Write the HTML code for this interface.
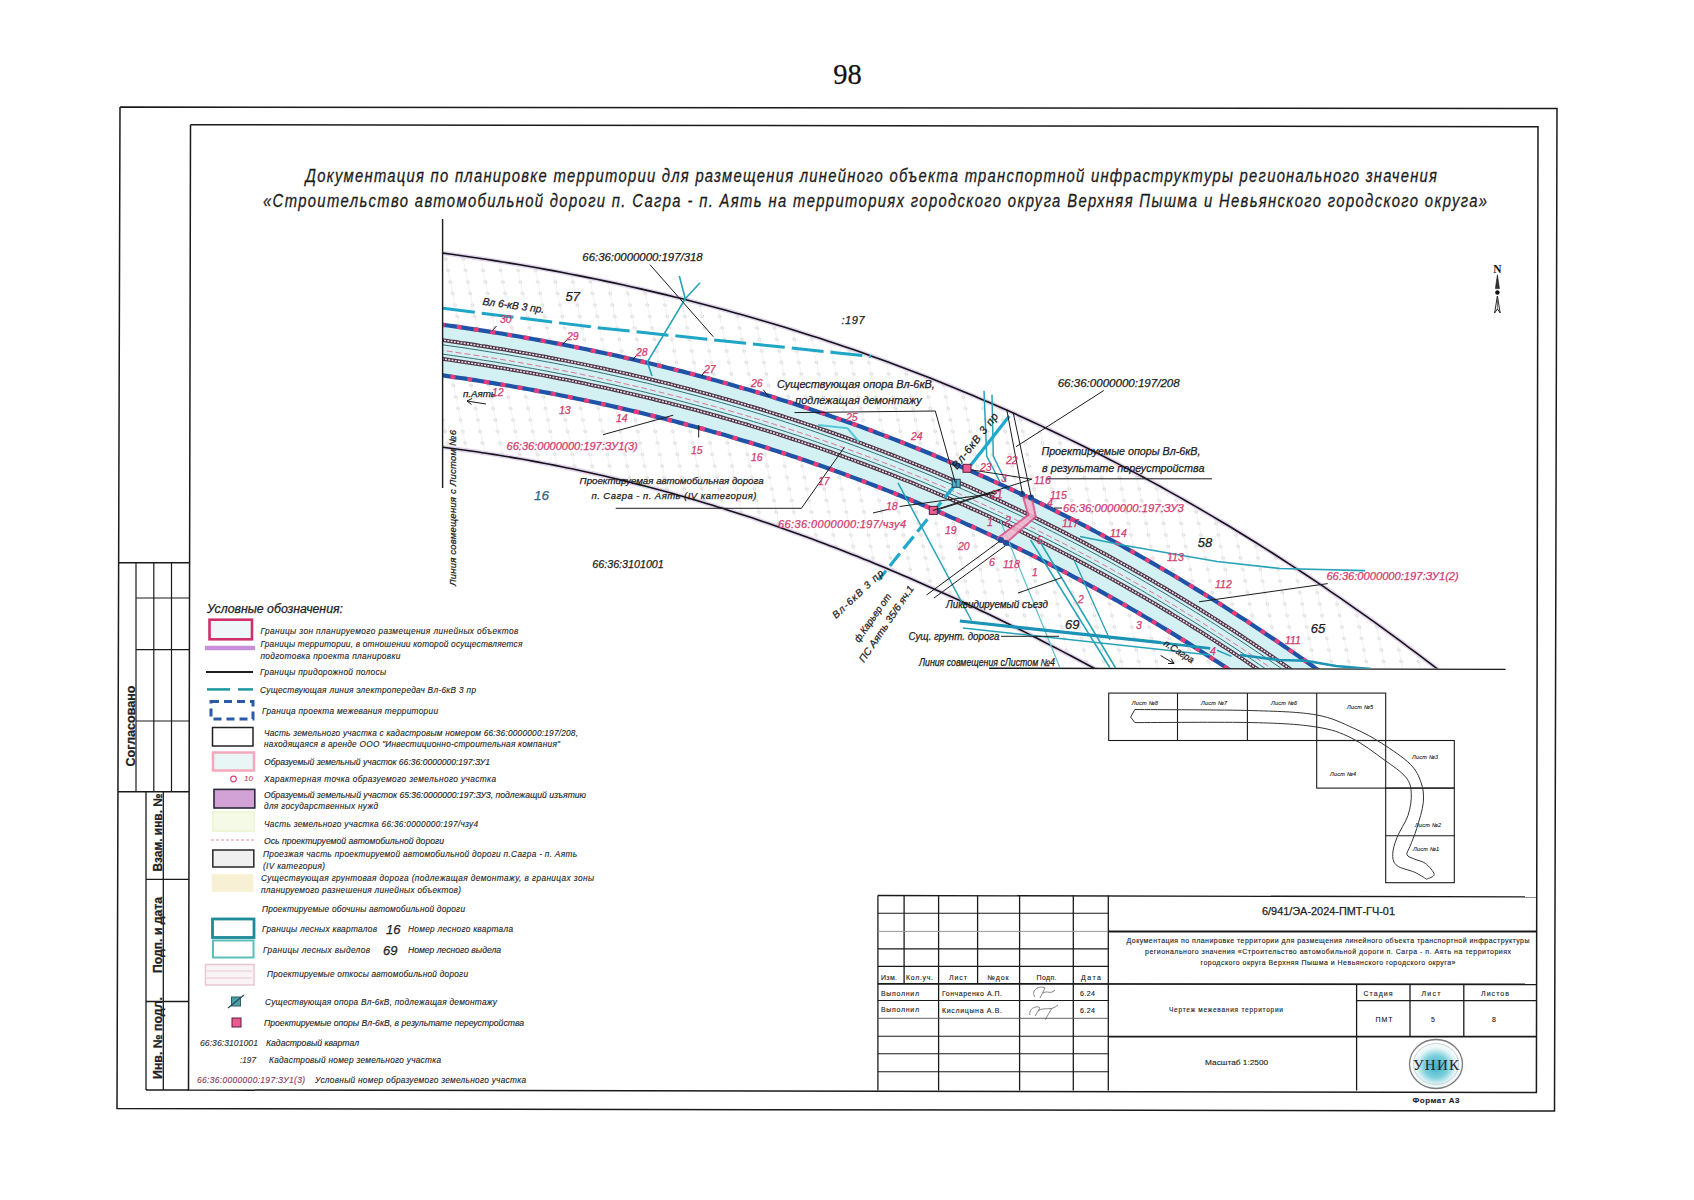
<!DOCTYPE html>
<html><head><meta charset="utf-8"><style>
html,body{margin:0;padding:0;background:#ffffff;width:1694px;height:1200px;overflow:hidden;position:relative}
</style></head><body>
<svg width="1694" height="1200" viewBox="0 0 1694 1200" style="position:absolute;left:0;top:0">
<defs>
<clipPath id="map"><rect x="443" y="200" width="1100" height="468.5"/></clipPath>
<clipPath id="strip"><polygon points="430.0,251.3 436.5,252.2 443.0,253.1 449.4,254.0 455.9,254.9 462.4,255.8 468.9,256.7 475.3,257.7 481.8,258.7 488.3,259.7 494.8,260.7 501.3,261.7 507.7,262.8 514.2,263.9 520.7,265.0 527.2,266.1 533.6,267.2 540.1,268.4 546.6,269.6 553.1,270.7 559.6,272.0 566.0,273.2 572.5,274.4 579.0,275.7 585.5,277.0 591.9,278.3 598.4,279.7 604.9,281.0 611.4,282.4 617.9,283.8 624.3,285.2 630.8,286.6 637.3,288.1 643.8,289.6 650.3,291.1 656.7,292.6 663.2,294.2 669.7,295.7 676.2,297.3 682.6,298.9 689.1,300.5 695.6,302.2 702.1,303.9 708.6,305.6 715.0,307.3 721.5,309.0 728.0,310.8 734.5,312.6 740.9,314.4 747.4,316.3 753.9,318.1 760.4,320.0 766.9,321.9 773.3,323.8 779.8,325.8 786.3,327.8 792.8,329.8 799.2,331.8 805.7,333.9 812.2,335.9 818.7,338.0 825.2,340.2 831.6,342.3 838.1,344.5 844.6,346.7 851.1,348.9 857.5,351.1 864.0,353.4 870.5,355.7 877.0,358.0 883.5,360.4 889.9,362.8 896.4,365.2 902.9,367.6 909.4,370.1 915.8,372.5 922.3,375.0 928.8,377.6 935.3,380.1 941.8,382.7 948.2,385.3 954.7,388.0 961.2,390.7 967.7,393.3 974.2,396.1 980.6,398.8 987.1,401.6 993.6,404.4 1000.1,407.2 1006.5,410.1 1013.0,413.0 1019.5,415.9 1026.0,418.9 1032.5,421.8 1038.9,424.8 1045.4,427.9 1051.9,430.9 1058.4,434.0 1064.8,437.1 1071.3,440.3 1077.8,443.4 1084.3,446.6 1090.8,449.9 1097.2,453.1 1103.7,456.4 1110.2,459.8 1116.7,463.1 1123.1,466.5 1129.6,469.9 1136.1,473.4 1142.6,476.8 1149.1,480.3 1155.5,483.9 1162.0,487.4 1168.5,491.0 1175.0,494.7 1181.4,498.3 1187.9,502.0 1194.4,505.7 1200.9,509.5 1207.4,513.3 1213.8,517.1 1220.3,520.9 1226.8,524.8 1233.3,528.7 1239.7,532.7 1246.2,536.6 1252.7,540.7 1259.2,544.7 1265.7,548.8 1272.1,552.9 1278.6,557.0 1285.1,561.2 1291.6,565.4 1298.1,569.6 1304.5,573.9 1311.0,578.2 1317.5,582.5 1324.0,586.9 1330.4,591.3 1336.9,595.8 1343.4,600.2 1349.9,604.7 1356.4,609.3 1362.8,613.9 1369.3,618.5 1375.8,623.1 1382.3,627.8 1388.7,632.5 1395.2,637.3 1401.7,642.1 1408.2,646.9 1414.7,651.7 1421.1,656.6 1427.6,661.6 1434.1,666.5 1440.6,671.5 1447.0,676.6 1453.5,681.6 1460.0,686.7 1110.0,677.1 1105.7,674.7 1101.4,672.4 1097.2,670.0 1092.9,667.7 1088.6,665.4 1084.3,663.1 1080.1,660.8 1075.8,658.5 1071.5,656.2 1067.2,653.9 1063.0,651.7 1058.7,649.4 1054.4,647.2 1050.1,645.0 1045.8,642.8 1041.6,640.6 1037.3,638.4 1033.0,636.2 1028.7,634.1 1024.5,631.9 1020.2,629.8 1015.9,627.6 1011.6,625.5 1007.4,623.4 1003.1,621.3 998.8,619.2 994.5,617.1 990.3,615.1 986.0,613.0 981.7,611.0 977.4,608.9 973.1,606.9 968.9,604.9 964.6,602.9 960.3,600.9 956.0,598.9 951.8,597.0 947.5,595.0 943.2,593.1 938.9,591.1 934.7,589.2 930.4,587.3 926.1,585.4 921.8,583.5 917.5,581.6 913.3,579.8 909.0,577.9 904.7,576.1 900.4,574.2 896.2,572.4 891.9,570.6 887.6,568.8 883.3,567.0 879.1,565.3 874.8,563.5 870.5,561.8 866.2,560.0 861.9,558.3 857.7,556.6 853.4,554.9 849.1,553.2 844.8,551.5 840.6,549.8 836.3,548.2 832.0,546.5 827.7,544.9 823.5,543.3 819.2,541.7 814.9,540.1 810.6,538.5 806.4,536.9 802.1,535.3 797.8,533.8 793.5,532.2 789.2,530.7 785.0,529.2 780.7,527.7 776.4,526.2 772.1,524.7 767.9,523.2 763.6,521.8 759.3,520.3 755.0,518.9 750.8,517.5 746.5,516.1 742.2,514.7 737.9,513.3 733.6,511.9 729.4,510.5 725.1,509.2 720.8,507.8 716.5,506.5 712.3,505.2 708.0,503.9 703.7,502.6 699.4,501.3 695.2,500.1 690.9,498.8 686.6,497.6 682.3,496.3 678.1,495.1 673.8,493.9 669.5,492.7 665.2,491.5 660.9,490.4 656.7,489.2 652.4,488.1 648.1,486.9 643.8,485.8 639.6,484.7 635.3,483.6 631.0,482.5 626.7,481.5 622.5,480.4 618.2,479.4 613.9,478.3 609.6,477.3 605.3,476.3 601.1,475.3 596.8,474.3 592.5,473.3 588.2,472.4 584.0,471.4 579.7,470.5 575.4,469.6 571.1,468.7 566.9,467.8 562.6,466.9 558.3,466.0 554.0,465.2 549.7,464.3 545.5,463.5 541.2,462.7 536.9,461.9 532.6,461.1 528.4,460.3 524.1,459.5 519.8,458.8 515.5,458.0 511.3,457.3 507.0,456.6 502.7,455.9 498.4,455.2 494.2,454.5 489.9,453.8 485.6,453.2 481.3,452.5 477.0,451.9 472.8,451.3 468.5,450.7 464.2,450.1 459.9,449.5 455.7,448.9 451.4,448.4 447.1,447.8 442.8,447.3 438.6,446.8 434.3,446.3 430.0,445.8"/></clipPath>
<pattern id="dots" width="17.5" height="11.5" patternUnits="userSpaceOnUse" patternTransform="skewX(11.3)"><circle cx="9" cy="6" r="1.3" fill="none" stroke="#bdbdbd" stroke-width="0.7"/></pattern>
</defs>
<text x="847.5" y="83.6" font-family="Liberation Serif" font-size="28.5" fill="#111" stroke="#111" stroke-width="0.25" text-anchor="middle">98</text>
<g>
<polyline points="120.0,107.0 1557.0,108.6 1554.5,1111.0 117.0,1108.6 120.0,107.0" fill="none" stroke="#1a1a1a" stroke-width="1.5"/>
<polyline points="190.5,124.7 1538.0,126.7 1536.4,1092.5 188.5,1090.0 190.5,124.7" fill="none" stroke="#1a1a1a" stroke-width="1.5"/>
</g>
<g transform="scale(0.78,1)">
<text x="391.7" y="182.4" font-family="Liberation Sans" font-size="19" fill="#1c1c1c" stroke="#1c1c1c" stroke-width="0.3" font-style="italic" textLength="1450.6" lengthAdjust="spacing">Документация по планировке территории для размещения линейного объекта транспортной инфраструктуры регионального значения</text>
<text x="337.2" y="206.6" font-family="Liberation Sans" font-size="19" fill="#1c1c1c" stroke="#1c1c1c" stroke-width="0.3" font-style="italic" textLength="1569.2" lengthAdjust="spacing">«Строительство автомобильной дороги п. Сагра - п. Аять на территориях городского округа Верхняя Пышма и Невьянского городского округа»</text>
</g>
<g clip-path="url(#map)">
<g clip-path="url(#strip)"><rect x="443" y="200" width="1100" height="470" fill="url(#dots)"/></g>
<g clip-path="url(#strip)" stroke="#efefef" stroke-width="0.8"><line x1="125.0" y1="230" x2="215.0" y2="680"/><line x1="142.5" y1="230" x2="232.5" y2="680"/><line x1="160.0" y1="230" x2="250.0" y2="680"/><line x1="177.5" y1="230" x2="267.5" y2="680"/><line x1="195.0" y1="230" x2="285.0" y2="680"/><line x1="212.5" y1="230" x2="302.5" y2="680"/><line x1="230.0" y1="230" x2="320.0" y2="680"/><line x1="247.5" y1="230" x2="337.5" y2="680"/><line x1="265.0" y1="230" x2="355.0" y2="680"/><line x1="282.5" y1="230" x2="372.5" y2="680"/><line x1="300.0" y1="230" x2="390.0" y2="680"/><line x1="317.5" y1="230" x2="407.5" y2="680"/><line x1="335.0" y1="230" x2="425.0" y2="680"/><line x1="352.5" y1="230" x2="442.5" y2="680"/><line x1="370.0" y1="230" x2="460.0" y2="680"/><line x1="387.5" y1="230" x2="477.5" y2="680"/><line x1="405.0" y1="230" x2="495.0" y2="680"/><line x1="422.5" y1="230" x2="512.5" y2="680"/><line x1="440.0" y1="230" x2="530.0" y2="680"/><line x1="457.5" y1="230" x2="547.5" y2="680"/><line x1="475.0" y1="230" x2="565.0" y2="680"/><line x1="492.5" y1="230" x2="582.5" y2="680"/><line x1="510.0" y1="230" x2="600.0" y2="680"/><line x1="527.5" y1="230" x2="617.5" y2="680"/><line x1="545.0" y1="230" x2="635.0" y2="680"/><line x1="562.5" y1="230" x2="652.5" y2="680"/><line x1="580.0" y1="230" x2="670.0" y2="680"/><line x1="597.5" y1="230" x2="687.5" y2="680"/><line x1="615.0" y1="230" x2="705.0" y2="680"/><line x1="632.5" y1="230" x2="722.5" y2="680"/><line x1="650.0" y1="230" x2="740.0" y2="680"/><line x1="667.5" y1="230" x2="757.5" y2="680"/><line x1="685.0" y1="230" x2="775.0" y2="680"/><line x1="702.5" y1="230" x2="792.5" y2="680"/><line x1="720.0" y1="230" x2="810.0" y2="680"/><line x1="737.5" y1="230" x2="827.5" y2="680"/><line x1="755.0" y1="230" x2="845.0" y2="680"/><line x1="772.5" y1="230" x2="862.5" y2="680"/><line x1="790.0" y1="230" x2="880.0" y2="680"/><line x1="807.5" y1="230" x2="897.5" y2="680"/><line x1="825.0" y1="230" x2="915.0" y2="680"/><line x1="842.5" y1="230" x2="932.5" y2="680"/><line x1="860.0" y1="230" x2="950.0" y2="680"/><line x1="877.5" y1="230" x2="967.5" y2="680"/><line x1="895.0" y1="230" x2="985.0" y2="680"/><line x1="912.5" y1="230" x2="1002.5" y2="680"/><line x1="930.0" y1="230" x2="1020.0" y2="680"/><line x1="947.5" y1="230" x2="1037.5" y2="680"/><line x1="965.0" y1="230" x2="1055.0" y2="680"/><line x1="982.5" y1="230" x2="1072.5" y2="680"/><line x1="1000.0" y1="230" x2="1090.0" y2="680"/><line x1="1017.5" y1="230" x2="1107.5" y2="680"/><line x1="1035.0" y1="230" x2="1125.0" y2="680"/><line x1="1052.5" y1="230" x2="1142.5" y2="680"/><line x1="1070.0" y1="230" x2="1160.0" y2="680"/><line x1="1087.5" y1="230" x2="1177.5" y2="680"/><line x1="1105.0" y1="230" x2="1195.0" y2="680"/><line x1="1122.5" y1="230" x2="1212.5" y2="680"/><line x1="1140.0" y1="230" x2="1230.0" y2="680"/><line x1="1157.5" y1="230" x2="1247.5" y2="680"/><line x1="1175.0" y1="230" x2="1265.0" y2="680"/><line x1="1192.5" y1="230" x2="1282.5" y2="680"/><line x1="1210.0" y1="230" x2="1300.0" y2="680"/><line x1="1227.5" y1="230" x2="1317.5" y2="680"/><line x1="1245.0" y1="230" x2="1335.0" y2="680"/><line x1="1262.5" y1="230" x2="1352.5" y2="680"/><line x1="1280.0" y1="230" x2="1370.0" y2="680"/><line x1="1297.5" y1="230" x2="1387.5" y2="680"/><line x1="1315.0" y1="230" x2="1405.0" y2="680"/><line x1="1332.5" y1="230" x2="1422.5" y2="680"/><line x1="1350.0" y1="230" x2="1440.0" y2="680"/><line x1="1367.5" y1="230" x2="1457.5" y2="680"/><line x1="1385.0" y1="230" x2="1475.0" y2="680"/><line x1="1402.5" y1="230" x2="1492.5" y2="680"/><line x1="1420.0" y1="230" x2="1510.0" y2="680"/><line x1="1437.5" y1="230" x2="1527.5" y2="680"/><line x1="1455.0" y1="230" x2="1545.0" y2="680"/><line x1="1472.5" y1="230" x2="1562.5" y2="680"/><line x1="1490.0" y1="230" x2="1580.0" y2="680"/><line x1="1507.5" y1="230" x2="1597.5" y2="680"/></g>
<polyline points="443.0,253.1 451.5,254.2 460.1,255.5 468.6,256.7 477.2,258.0 485.7,259.3 494.3,260.6 502.8,262.0 511.4,263.4 519.9,264.8 528.5,266.3 537.0,267.8 545.6,269.4 554.1,270.9 562.6,272.5 571.2,274.2 579.7,275.9 588.3,277.6 596.8,279.3 605.4,281.1 613.9,282.9 622.5,284.8 631.0,286.7 639.6,288.6 648.1,290.6 656.7,292.6 665.2,294.6 673.7,296.7 682.3,298.8 690.8,301.0 699.4,303.2 707.9,305.4 716.5,307.7 725.0,310.0 733.6,312.4 742.1,314.8 750.7,317.2 759.2,319.7 767.8,322.2 776.3,324.7 784.8,327.3 793.4,330.0 801.9,332.7 810.5,335.4 819.0,338.1 827.6,341.0 836.1,343.8 844.7,346.7 853.2,349.6 861.8,352.6 870.3,355.7 878.9,358.7 887.4,361.8 895.9,365.0 904.5,368.2 913.0,371.5 921.6,374.8 930.1,378.1 938.7,381.5 947.2,384.9 955.8,388.4 964.3,392.0 972.9,395.5 981.4,399.2 990.0,402.8 998.5,406.6 1007.1,410.3 1015.6,414.1 1024.1,418.0 1032.7,421.9 1041.2,425.9 1049.8,429.9 1058.3,434.0 1066.9,438.1 1075.4,442.3 1084.0,446.5 1092.5,450.8 1101.1,455.1 1109.6,459.5 1118.2,463.9 1126.7,468.4 1135.2,472.9 1143.8,477.5 1152.3,482.1 1160.9,486.8 1169.4,491.6 1178.0,496.4 1186.5,501.2 1195.1,506.1 1203.6,511.1 1212.2,516.1 1220.7,521.2 1229.3,526.3 1237.8,531.5 1246.3,536.7 1254.9,542.0 1263.4,547.4 1272.0,552.8 1280.5,558.2 1289.1,563.8 1297.6,569.3 1306.2,575.0 1314.7,580.7 1323.3,586.4 1331.8,592.3 1340.4,598.1 1348.9,604.1 1357.4,610.1 1366.0,616.1 1374.5,622.2 1383.1,628.4 1391.6,634.6 1400.2,640.9 1408.7,647.3 1417.3,653.7 1425.8,660.2 1434.4,666.7 1442.9,673.3 1451.5,680.0 1460.0,686.7" fill="none" stroke="#dcc8ec" stroke-width="4.5" opacity="0.8"/>
<polyline points="443.0,447.3 448.6,448.0 454.2,448.7 459.8,449.5 465.4,450.2 471.0,451.0 476.6,451.8 482.2,452.7 487.8,453.5 493.4,454.4 499.1,455.3 504.7,456.2 510.3,457.1 515.9,458.1 521.5,459.0 527.1,460.0 532.7,461.1 538.3,462.1 543.9,463.2 549.5,464.3 555.1,465.4 560.7,466.5 566.3,467.7 571.9,468.8 577.5,470.0 583.1,471.3 588.7,472.5 594.3,473.8 599.9,475.0 605.5,476.3 611.2,477.7 616.8,479.0 622.4,480.4 628.0,481.8 633.6,483.2 639.2,484.6 644.8,486.1 650.4,487.5 656.0,489.0 661.6,490.5 667.2,492.1 672.8,493.6 678.4,495.2 684.0,496.8 689.6,498.4 695.2,500.1 700.8,501.7 706.4,503.4 712.0,505.1 717.6,506.9 723.3,508.6 728.9,510.4 734.5,512.2 740.1,514.0 745.7,515.8 751.3,517.6 756.9,519.5 762.5,521.4 768.1,523.3 773.7,525.2 779.3,527.2 784.9,529.2 790.5,531.2 796.1,533.2 801.7,535.2 807.3,537.2 812.9,539.3 818.5,541.4 824.1,543.5 829.7,545.7 835.4,547.8 841.0,550.0 846.6,552.2 852.2,554.4 857.8,556.6 863.4,558.9 869.0,561.1 874.6,563.4 880.2,565.7 885.8,568.1 891.4,570.4 897.0,572.8 902.6,575.2 908.2,577.6 913.8,580.0 919.4,582.5 925.0,584.9 930.6,587.4 936.2,589.9 941.8,592.4 947.5,595.0 953.1,597.6 958.7,600.1 964.3,602.7 969.9,605.4 975.5,608.0 981.1,610.7 986.7,613.3 992.3,616.0 997.9,618.8 1003.5,621.5 1009.1,624.3 1014.7,627.0 1020.3,629.8 1025.9,632.6 1031.5,635.5 1037.1,638.3 1042.7,641.2 1048.3,644.1 1053.9,647.0 1059.6,649.9 1065.2,652.9 1070.8,655.8 1076.4,658.8 1082.0,661.8 1087.6,664.8 1093.2,667.8 1098.8,670.9 1104.4,674.0 1110.0,677.1" fill="none" stroke="#dcc8ec" stroke-width="4.5" opacity="0.8"/>
<polygon points="423.1,322.1 428.1,322.8 433.1,323.4 438.1,324.1 443.0,324.8 448.0,325.5 453.0,326.2 458.0,326.9 463.0,327.6 467.9,328.4 472.9,329.1 477.9,329.9 482.9,330.6 487.8,331.4 492.8,332.2 497.8,333.0 502.8,333.8 507.8,334.7 512.7,335.5 517.7,336.3 522.7,337.2 527.7,338.1 532.7,339.0 537.6,339.9 542.6,340.8 547.6,341.7 552.6,342.6 557.6,343.6 562.6,344.5 567.5,345.5 572.5,346.5 577.5,347.5 582.5,348.5 587.5,349.5 592.4,350.6 597.4,351.6 602.4,352.7 607.4,353.7 612.4,354.8 617.4,355.9 622.4,357.0 627.3,358.2 632.3,359.3 637.3,360.5 642.3,361.6 647.3,362.8 652.3,364.0 657.2,365.2 662.2,366.4 667.2,367.7 672.2,368.9 677.2,370.2 682.2,371.4 687.2,372.7 692.2,374.0 697.1,375.4 702.1,376.7 707.1,378.0 712.1,379.4 717.1,380.8 722.1,382.2 727.1,383.6 732.1,385.0 737.0,386.4 742.0,387.9 747.0,389.3 752.0,390.8 757.0,392.3 762.0,393.8 767.0,395.3 772.0,396.8 777.0,398.4 781.9,400.0 786.9,401.5 791.9,403.1 796.9,404.8 801.9,406.4 806.9,408.0 811.9,409.7 816.9,411.4 821.9,413.0 826.9,414.7 831.8,416.5 836.8,418.2 841.8,420.0 846.8,421.7 851.8,423.5 856.8,425.3 861.8,427.1 866.8,429.0 871.8,430.8 876.8,432.7 881.7,434.6 886.7,436.5 891.7,438.4 896.7,440.3 901.7,442.3 906.7,444.2 911.7,446.2 916.7,448.2 921.7,450.2 926.7,452.3 931.7,454.3 936.6,456.4 941.6,458.5 946.6,460.6 951.6,462.7 956.6,464.8 961.6,467.0 966.6,469.2 971.6,471.3 976.6,473.5 981.6,475.8 986.6,478.0 991.5,480.3 996.5,482.6 1001.5,484.9 1006.5,487.2 1011.5,489.5 1016.5,491.8 1021.5,494.2 1026.5,496.6 1031.5,499.0 1036.5,501.4 1041.5,503.9 1046.4,506.3 1051.4,508.8 1056.4,511.3 1061.4,513.8 1066.4,516.4 1071.4,518.9 1076.4,521.5 1081.4,524.1 1086.4,526.7 1091.4,529.3 1096.3,532.0 1101.3,534.6 1106.3,537.3 1111.3,540.0 1116.3,542.8 1121.3,545.5 1126.3,548.3 1131.3,551.1 1136.3,553.9 1141.2,556.7 1146.2,559.5 1151.2,562.4 1156.2,565.3 1161.2,568.2 1166.2,571.1 1171.2,574.0 1176.2,577.0 1181.2,580.0 1186.1,583.0 1191.1,586.0 1196.1,589.1 1201.1,592.1 1206.1,595.2 1211.1,598.3 1216.1,601.4 1221.0,604.6 1226.0,607.8 1231.0,610.9 1236.0,614.2 1241.0,617.4 1246.0,620.6 1251.0,623.9 1255.9,627.2 1260.9,630.5 1265.9,633.9 1270.9,637.2 1275.9,640.6 1280.9,644.0 1285.9,647.4 1290.8,650.9 1295.8,654.3 1300.8,657.8 1305.8,661.3 1310.8,664.8 1315.8,668.4 1320.7,672.0 1325.7,675.6 1330.7,679.2 1335.7,682.8 1340.7,686.5 1345.6,690.2 1350.6,693.9 1355.6,697.6 1360.6,701.3 1365.6,705.1 1370.6,708.9 1375.5,712.7 1380.5,716.6 1385.5,720.4 1390.5,724.3 1395.5,728.2 1400.4,732.2 1405.4,736.1 1410.4,740.1 1415.4,744.1 1383.9,783.2 1379.0,779.3 1374.1,775.4 1369.3,771.5 1364.4,767.7 1359.5,763.9 1354.7,760.1 1349.8,756.3 1344.9,752.5 1340.1,748.8 1335.2,745.1 1330.3,741.4 1325.5,737.7 1320.6,734.1 1315.7,730.5 1310.9,726.9 1306.0,723.3 1301.2,719.8 1296.3,716.2 1291.4,712.7 1286.6,709.2 1281.7,705.8 1276.8,702.3 1272.0,698.9 1267.1,695.5 1262.2,692.1 1257.4,688.8 1252.5,685.4 1247.7,682.1 1242.8,678.8 1237.9,675.5 1233.1,672.3 1228.2,669.0 1223.4,665.8 1218.5,662.6 1213.6,659.5 1208.8,656.3 1203.9,653.2 1199.1,650.1 1194.2,647.0 1189.3,643.9 1184.5,640.9 1179.6,637.9 1174.8,634.9 1169.9,631.9 1165.0,628.9 1160.2,626.0 1155.3,623.0 1150.5,620.1 1145.6,617.2 1140.7,614.4 1135.9,611.5 1131.0,608.7 1126.2,605.9 1121.3,603.1 1116.5,600.3 1111.6,597.6 1106.7,594.9 1101.9,592.1 1097.0,589.4 1092.2,586.8 1087.3,584.1 1082.5,581.5 1077.6,578.9 1072.7,576.3 1067.9,573.7 1063.0,571.1 1058.2,568.6 1053.3,566.1 1048.5,563.6 1043.6,561.1 1038.7,558.6 1033.9,556.2 1029.0,553.7 1024.2,551.3 1019.3,548.9 1014.5,546.6 1009.6,544.2 1004.8,541.9 999.9,539.5 995.0,537.2 990.2,534.9 985.3,532.7 980.5,530.4 975.6,528.2 970.8,526.0 965.9,523.8 961.1,521.6 956.2,519.4 951.3,517.3 946.5,515.2 941.6,513.0 936.8,510.9 931.9,508.9 927.1,506.8 922.2,504.8 917.4,502.7 912.5,500.7 907.7,498.7 902.8,496.7 897.9,494.8 893.1,492.8 888.2,490.9 883.4,489.0 878.5,487.1 873.7,485.2 868.8,483.4 864.0,481.5 859.1,479.7 854.2,477.9 849.4,476.1 844.5,474.3 839.7,472.5 834.8,470.8 830.0,469.0 825.1,467.3 820.3,465.6 815.4,463.9 810.5,462.2 805.7,460.6 800.8,458.9 796.0,457.3 791.1,455.7 786.3,454.1 781.4,452.5 776.6,450.9 771.7,449.4 766.8,447.8 762.0,446.3 757.1,444.8 752.3,443.3 747.4,441.8 742.6,440.4 737.7,438.9 732.8,437.5 728.0,436.0 723.1,434.6 718.3,433.2 713.4,431.9 708.6,430.5 703.7,429.1 698.8,427.8 694.0,426.5 689.1,425.2 684.3,423.9 679.4,422.6 674.5,421.3 669.7,420.1 664.8,418.8 660.0,417.6 655.1,416.4 650.2,415.2 645.4,414.0 640.5,412.8 635.7,411.6 630.8,410.5 625.9,409.4 621.1,408.2 616.2,407.1 611.4,406.0 606.5,404.9 601.6,403.9 596.8,402.8 591.9,401.8 587.0,400.7 582.2,399.7 577.3,398.7 572.5,397.7 567.6,396.7 562.7,395.7 557.9,394.8 553.0,393.8 548.1,392.9 543.3,392.0 538.4,391.1 533.5,390.1 528.7,389.3 523.8,388.4 518.9,387.5 514.1,386.7 509.2,385.8 504.3,385.0 499.5,384.2 494.6,383.4 489.7,382.6 484.9,381.8 480.0,381.0 475.1,380.2 470.3,379.5 465.4,378.7 460.5,378.0 455.7,377.3 450.8,376.6 445.9,375.9 441.1,375.2 436.2,374.5 431.3,373.8 426.4,373.2 421.6,372.5 416.7,371.9" fill="#d3f0f3"/>
<polyline points="421.2,337.3 426.1,337.9 431.1,338.6 436.0,339.3 441.0,339.9 445.9,340.6 450.8,341.3 455.8,342.0 460.7,342.8 465.7,343.5 470.6,344.2 475.6,345.0 480.5,345.8 485.5,346.5 490.4,347.3 495.3,348.1 500.3,348.9 505.2,349.7 510.2,350.6 515.1,351.4 520.1,352.3 525.0,353.1 530.0,354.0 534.9,354.9 539.9,355.8 544.8,356.7 549.7,357.7 554.7,358.6 559.6,359.6 564.6,360.5 569.5,361.5 574.5,362.5 579.4,363.5 584.4,364.5 589.3,365.5 594.3,366.6 599.2,367.6 604.2,368.7 609.1,369.8 614.1,370.9 619.0,372.0 623.9,373.1 628.9,374.2 633.8,375.4 638.8,376.5 643.7,377.7 648.7,378.9 653.6,380.1 658.6,381.3 663.5,382.5 668.5,383.7 673.4,385.0 678.4,386.3 683.3,387.5 688.3,388.8 693.2,390.1 698.2,391.5 703.1,392.8 708.1,394.1 713.0,395.5 718.0,396.9 722.9,398.3 727.9,399.7 732.8,401.1 737.8,402.5 742.7,404.0 747.6,405.5 752.6,406.9 757.5,408.4 762.5,409.9 767.4,411.5 772.4,413.0 777.3,414.6 782.3,416.1 787.2,417.7 792.2,419.3 797.1,420.9 802.1,422.5 807.0,424.2 812.0,425.9 816.9,427.5 821.9,429.2 826.8,430.9 831.8,432.6 836.7,434.4 841.7,436.1 846.6,437.9 851.6,439.7 856.5,441.5 861.5,443.3 866.4,445.2 871.4,447.0 876.3,448.9 881.3,450.8 886.2,452.7 891.2,454.6 896.1,456.5 901.1,458.5 906.0,460.4 911.0,462.4 915.9,464.4 920.9,466.4 925.8,468.5 930.8,470.5 935.7,472.6 940.7,474.7 945.6,476.8 950.6,478.9 955.5,481.0 960.5,483.2 965.4,485.3 970.4,487.5 975.3,489.7 980.3,492.0 985.2,494.2 990.2,496.5 995.1,498.7 1000.1,501.0 1005.0,503.3 1010.0,505.7 1014.9,508.0 1019.9,510.4 1024.8,512.8 1029.8,515.2 1034.7,517.6 1039.7,520.0 1044.6,522.5 1049.6,525.0 1054.5,527.5 1059.5,530.0 1064.4,532.5 1069.4,535.1 1074.3,537.6 1079.3,540.2 1084.2,542.8 1089.2,545.5 1094.1,548.1 1099.0,550.8 1104.0,553.5 1108.9,556.2 1113.9,558.9 1118.8,561.6 1123.8,564.4 1128.7,567.2 1133.7,570.0 1138.6,572.8 1143.6,575.6 1148.5,578.5 1153.5,581.4 1158.4,584.3 1163.4,587.2 1168.3,590.1 1173.3,593.1 1178.2,596.1 1183.2,599.1 1188.1,602.1 1193.1,605.1 1198.0,608.2 1203.0,611.3 1207.9,614.4 1212.9,617.5 1217.8,620.7 1222.8,623.8 1227.7,627.0 1232.7,630.2 1237.6,633.4 1242.5,636.7 1247.5,640.0 1252.4,643.2 1257.4,646.6 1262.3,649.9 1267.3,653.2 1272.2,656.6 1277.2,660.0 1282.1,663.4 1287.1,666.9 1292.0,670.3 1297.0,673.8 1301.9,677.3 1306.9,680.8 1311.8,684.4 1316.8,688.0 1321.7,691.5 1326.6,695.2 1331.6,698.8 1336.5,702.5 1341.5,706.1 1346.4,709.8 1351.4,713.6 1356.3,717.3 1361.3,721.1 1366.2,724.9 1371.2,728.7 1376.1,732.5 1381.0,736.4 1386.0,740.3 1390.9,744.2 1395.9,748.1 1400.8,752.0 1405.8,756.0" fill="none" stroke="#4e3648" stroke-width="3.8"/>
<polyline points="421.2,337.3 426.1,337.9 431.1,338.6 436.0,339.3 441.0,339.9 445.9,340.6 450.8,341.3 455.8,342.0 460.7,342.8 465.7,343.5 470.6,344.2 475.6,345.0 480.5,345.8 485.5,346.5 490.4,347.3 495.3,348.1 500.3,348.9 505.2,349.7 510.2,350.6 515.1,351.4 520.1,352.3 525.0,353.1 530.0,354.0 534.9,354.9 539.9,355.8 544.8,356.7 549.7,357.7 554.7,358.6 559.6,359.6 564.6,360.5 569.5,361.5 574.5,362.5 579.4,363.5 584.4,364.5 589.3,365.5 594.3,366.6 599.2,367.6 604.2,368.7 609.1,369.8 614.1,370.9 619.0,372.0 623.9,373.1 628.9,374.2 633.8,375.4 638.8,376.5 643.7,377.7 648.7,378.9 653.6,380.1 658.6,381.3 663.5,382.5 668.5,383.7 673.4,385.0 678.4,386.3 683.3,387.5 688.3,388.8 693.2,390.1 698.2,391.5 703.1,392.8 708.1,394.1 713.0,395.5 718.0,396.9 722.9,398.3 727.9,399.7 732.8,401.1 737.8,402.5 742.7,404.0 747.6,405.5 752.6,406.9 757.5,408.4 762.5,409.9 767.4,411.5 772.4,413.0 777.3,414.6 782.3,416.1 787.2,417.7 792.2,419.3 797.1,420.9 802.1,422.5 807.0,424.2 812.0,425.9 816.9,427.5 821.9,429.2 826.8,430.9 831.8,432.6 836.7,434.4 841.7,436.1 846.6,437.9 851.6,439.7 856.5,441.5 861.5,443.3 866.4,445.2 871.4,447.0 876.3,448.9 881.3,450.8 886.2,452.7 891.2,454.6 896.1,456.5 901.1,458.5 906.0,460.4 911.0,462.4 915.9,464.4 920.9,466.4 925.8,468.5 930.8,470.5 935.7,472.6 940.7,474.7 945.6,476.8 950.6,478.9 955.5,481.0 960.5,483.2 965.4,485.3 970.4,487.5 975.3,489.7 980.3,492.0 985.2,494.2 990.2,496.5 995.1,498.7 1000.1,501.0 1005.0,503.3 1010.0,505.7 1014.9,508.0 1019.9,510.4 1024.8,512.8 1029.8,515.2 1034.7,517.6 1039.7,520.0 1044.6,522.5 1049.6,525.0 1054.5,527.5 1059.5,530.0 1064.4,532.5 1069.4,535.1 1074.3,537.6 1079.3,540.2 1084.2,542.8 1089.2,545.5 1094.1,548.1 1099.0,550.8 1104.0,553.5 1108.9,556.2 1113.9,558.9 1118.8,561.6 1123.8,564.4 1128.7,567.2 1133.7,570.0 1138.6,572.8 1143.6,575.6 1148.5,578.5 1153.5,581.4 1158.4,584.3 1163.4,587.2 1168.3,590.1 1173.3,593.1 1178.2,596.1 1183.2,599.1 1188.1,602.1 1193.1,605.1 1198.0,608.2 1203.0,611.3 1207.9,614.4 1212.9,617.5 1217.8,620.7 1222.8,623.8 1227.7,627.0 1232.7,630.2 1237.6,633.4 1242.5,636.7 1247.5,640.0 1252.4,643.2 1257.4,646.6 1262.3,649.9 1267.3,653.2 1272.2,656.6 1277.2,660.0 1282.1,663.4 1287.1,666.9 1292.0,670.3 1297.0,673.8 1301.9,677.3 1306.9,680.8 1311.8,684.4 1316.8,688.0 1321.7,691.5 1326.6,695.2 1331.6,698.8 1336.5,702.5 1341.5,706.1 1346.4,709.8 1351.4,713.6 1356.3,717.3 1361.3,721.1 1366.2,724.9 1371.2,728.7 1376.1,732.5 1381.0,736.4 1386.0,740.3 1390.9,744.2 1395.9,748.1 1400.8,752.0 1405.8,756.0" fill="none" stroke="#eadde6" stroke-width="1.5" stroke-dasharray="2 1.3"/>
<polyline points="418.8,355.7 423.7,356.4 428.6,357.0 433.5,357.7 438.4,358.4 443.3,359.0 448.2,359.7 453.1,360.4 458.0,361.2 462.9,361.9 467.8,362.6 472.7,363.4 477.6,364.1 482.6,364.9 487.5,365.7 492.4,366.5 497.3,367.3 502.2,368.1 507.1,368.9 512.0,369.8 516.9,370.6 521.8,371.5 526.7,372.3 531.6,373.2 536.5,374.1 541.4,375.0 546.3,375.9 551.2,376.9 556.1,377.8 561.0,378.8 565.9,379.7 570.8,380.7 575.7,381.7 580.6,382.7 585.5,383.7 590.4,384.8 595.3,385.8 600.2,386.9 605.1,387.9 610.0,389.0 614.9,390.1 619.8,391.2 624.7,392.3 629.6,393.5 634.5,394.6 639.4,395.8 644.3,397.0 649.2,398.1 654.1,399.3 659.0,400.6 663.9,401.8 668.8,403.0 673.7,404.3 678.6,405.5 683.5,406.8 688.4,408.1 693.3,409.4 698.2,410.7 703.1,412.1 708.0,413.4 712.9,414.8 717.8,416.2 722.7,417.6 727.6,419.0 732.5,420.4 737.4,421.8 742.3,423.3 747.2,424.7 752.1,426.2 757.0,427.7 761.9,429.2 766.8,430.8 771.7,432.3 776.6,433.8 781.5,435.4 786.4,437.0 791.3,438.6 796.2,440.2 801.1,441.8 806.0,443.5 810.9,445.1 815.8,446.8 820.7,448.5 825.6,450.2 830.5,451.9 835.4,453.7 840.3,455.4 845.2,457.2 850.1,459.0 855.0,460.8 859.9,462.6 864.8,464.4 869.7,466.3 874.6,468.1 879.5,470.0 884.4,471.9 889.3,473.8 894.2,475.8 899.1,477.7 904.0,479.7 908.9,481.6 913.8,483.6 918.7,485.7 923.6,487.7 928.5,489.7 933.4,491.8 938.3,493.9 943.2,496.0 948.1,498.1 953.0,500.2 957.9,502.4 962.8,504.5 967.7,506.7 972.6,508.9 977.5,511.1 982.4,513.4 987.3,515.6 992.2,517.9 997.1,520.2 1002.0,522.5 1006.9,524.8 1011.8,527.2 1016.7,529.5 1021.6,531.9 1026.5,534.3 1031.4,536.7 1036.3,539.2 1041.2,541.6 1046.1,544.1 1051.0,546.6 1055.9,549.1 1060.8,551.6 1065.7,554.1 1070.6,556.7 1075.5,559.3 1080.4,561.9 1085.3,564.5 1090.2,567.1 1095.1,569.8 1100.0,572.5 1104.9,575.2 1109.8,577.9 1114.7,580.6 1119.6,583.4 1124.5,586.2 1129.4,589.0 1134.3,591.8 1139.2,594.6 1144.1,597.4 1149.0,600.3 1153.9,603.2 1158.8,606.1 1163.7,609.1 1168.6,612.0 1173.5,615.0 1178.4,618.0 1183.3,621.0 1188.2,624.0 1193.1,627.1 1198.0,630.1 1202.9,633.2 1207.8,636.3 1212.7,639.5 1217.6,642.6 1222.5,645.8 1227.4,649.0 1232.3,652.2 1237.2,655.5 1242.1,658.7 1247.0,662.0 1251.9,665.3 1256.8,668.6 1261.7,672.0 1266.6,675.3 1271.5,678.7 1276.4,682.1 1281.3,685.6 1286.2,689.0 1291.1,692.5 1296.0,696.0 1300.9,699.5 1305.8,703.0 1310.7,706.6 1315.7,710.2 1320.6,713.8 1325.5,717.4 1330.4,721.0 1335.3,724.7 1340.2,728.4 1345.1,732.1 1350.0,735.8 1354.9,739.6 1359.8,743.4 1364.7,747.2 1369.6,751.0 1374.5,754.9 1379.4,758.7 1384.3,762.6 1389.2,766.6 1394.1,770.5" fill="none" stroke="#4e3648" stroke-width="3.8"/>
<polyline points="418.8,355.7 423.7,356.4 428.6,357.0 433.5,357.7 438.4,358.4 443.3,359.0 448.2,359.7 453.1,360.4 458.0,361.2 462.9,361.9 467.8,362.6 472.7,363.4 477.6,364.1 482.6,364.9 487.5,365.7 492.4,366.5 497.3,367.3 502.2,368.1 507.1,368.9 512.0,369.8 516.9,370.6 521.8,371.5 526.7,372.3 531.6,373.2 536.5,374.1 541.4,375.0 546.3,375.9 551.2,376.9 556.1,377.8 561.0,378.8 565.9,379.7 570.8,380.7 575.7,381.7 580.6,382.7 585.5,383.7 590.4,384.8 595.3,385.8 600.2,386.9 605.1,387.9 610.0,389.0 614.9,390.1 619.8,391.2 624.7,392.3 629.6,393.5 634.5,394.6 639.4,395.8 644.3,397.0 649.2,398.1 654.1,399.3 659.0,400.6 663.9,401.8 668.8,403.0 673.7,404.3 678.6,405.5 683.5,406.8 688.4,408.1 693.3,409.4 698.2,410.7 703.1,412.1 708.0,413.4 712.9,414.8 717.8,416.2 722.7,417.6 727.6,419.0 732.5,420.4 737.4,421.8 742.3,423.3 747.2,424.7 752.1,426.2 757.0,427.7 761.9,429.2 766.8,430.8 771.7,432.3 776.6,433.8 781.5,435.4 786.4,437.0 791.3,438.6 796.2,440.2 801.1,441.8 806.0,443.5 810.9,445.1 815.8,446.8 820.7,448.5 825.6,450.2 830.5,451.9 835.4,453.7 840.3,455.4 845.2,457.2 850.1,459.0 855.0,460.8 859.9,462.6 864.8,464.4 869.7,466.3 874.6,468.1 879.5,470.0 884.4,471.9 889.3,473.8 894.2,475.8 899.1,477.7 904.0,479.7 908.9,481.6 913.8,483.6 918.7,485.7 923.6,487.7 928.5,489.7 933.4,491.8 938.3,493.9 943.2,496.0 948.1,498.1 953.0,500.2 957.9,502.4 962.8,504.5 967.7,506.7 972.6,508.9 977.5,511.1 982.4,513.4 987.3,515.6 992.2,517.9 997.1,520.2 1002.0,522.5 1006.9,524.8 1011.8,527.2 1016.7,529.5 1021.6,531.9 1026.5,534.3 1031.4,536.7 1036.3,539.2 1041.2,541.6 1046.1,544.1 1051.0,546.6 1055.9,549.1 1060.8,551.6 1065.7,554.1 1070.6,556.7 1075.5,559.3 1080.4,561.9 1085.3,564.5 1090.2,567.1 1095.1,569.8 1100.0,572.5 1104.9,575.2 1109.8,577.9 1114.7,580.6 1119.6,583.4 1124.5,586.2 1129.4,589.0 1134.3,591.8 1139.2,594.6 1144.1,597.4 1149.0,600.3 1153.9,603.2 1158.8,606.1 1163.7,609.1 1168.6,612.0 1173.5,615.0 1178.4,618.0 1183.3,621.0 1188.2,624.0 1193.1,627.1 1198.0,630.1 1202.9,633.2 1207.8,636.3 1212.7,639.5 1217.6,642.6 1222.5,645.8 1227.4,649.0 1232.3,652.2 1237.2,655.5 1242.1,658.7 1247.0,662.0 1251.9,665.3 1256.8,668.6 1261.7,672.0 1266.6,675.3 1271.5,678.7 1276.4,682.1 1281.3,685.6 1286.2,689.0 1291.1,692.5 1296.0,696.0 1300.9,699.5 1305.8,703.0 1310.7,706.6 1315.7,710.2 1320.6,713.8 1325.5,717.4 1330.4,721.0 1335.3,724.7 1340.2,728.4 1345.1,732.1 1350.0,735.8 1354.9,739.6 1359.8,743.4 1364.7,747.2 1369.6,751.0 1374.5,754.9 1379.4,758.7 1384.3,762.6 1389.2,766.6 1394.1,770.5" fill="none" stroke="#eadde6" stroke-width="1.5" stroke-dasharray="2 1.3"/>
<polyline points="420.6,341.9 425.5,342.5 430.5,343.2 435.4,343.8 440.3,344.5 445.3,345.2 450.2,345.9 455.1,346.6 460.1,347.3 465.0,348.0 469.9,348.8 474.9,349.5 479.8,350.3 484.7,351.1 489.7,351.9 494.6,352.7 499.5,353.5 504.5,354.3 509.4,355.1 514.3,356.0 519.3,356.8 524.2,357.7 529.2,358.6 534.1,359.4 539.0,360.4 544.0,361.3 548.9,362.2 553.8,363.1 558.8,364.1 563.7,365.0 568.6,366.0 573.6,367.0 578.5,368.0 583.4,369.0 588.4,370.0 593.3,371.1 598.2,372.1 603.2,373.2 608.1,374.3 613.1,375.4 618.0,376.5 622.9,377.6 627.9,378.7 632.8,379.8 637.7,381.0 642.7,382.2 647.6,383.3 652.5,384.5 657.5,385.8 662.4,387.0 667.4,388.2 672.3,389.5 677.2,390.7 682.2,392.0 687.1,393.3 692.0,394.6 697.0,395.9 701.9,397.2 706.8,398.6 711.8,399.9 716.7,401.3 721.7,402.7 726.6,404.1 731.5,405.5 736.5,407.0 741.4,408.4 746.3,409.9 751.3,411.3 756.2,412.8 761.1,414.3 766.1,415.9 771.0,417.4 776.0,418.9 780.9,420.5 785.8,422.1 790.8,423.7 795.7,425.3 800.6,426.9 805.6,428.6 810.5,430.2 815.5,431.9 820.4,433.6 825.3,435.3 830.3,437.0 835.2,438.7 840.1,440.5 845.1,442.2 850.0,444.0 854.9,445.8 859.9,447.6 864.8,449.5 869.8,451.3 874.7,453.2 879.6,455.1 884.6,457.0 889.5,458.9 894.4,460.8 899.4,462.7 904.3,464.7 909.3,466.7 914.2,468.7 919.1,470.7 924.1,472.7 929.0,474.8 933.9,476.8 938.9,478.9 943.8,481.0 948.8,483.1 953.7,485.2 958.6,487.4 963.6,489.6 968.5,491.7 973.4,493.9 978.4,496.2 983.3,498.4 988.2,500.6 993.2,502.9 998.1,505.2 1003.1,507.5 1008.0,509.8 1012.9,512.2 1017.9,514.5 1022.8,516.9 1027.7,519.3 1032.7,521.7 1037.6,524.2 1042.6,526.6 1047.5,529.1 1052.4,531.6 1057.4,534.1 1062.3,536.6 1067.2,539.2 1072.2,541.7 1077.1,544.3 1082.1,546.9 1087.0,549.5 1091.9,552.2 1096.9,554.8 1101.8,557.5 1106.7,560.2 1111.7,562.9 1116.6,565.7 1121.5,568.4 1126.5,571.2 1131.4,574.0 1136.4,576.8 1141.3,579.6 1146.2,582.5 1151.2,585.4 1156.1,588.3 1161.0,591.2 1166.0,594.1 1170.9,597.1 1175.8,600.0 1180.8,603.0 1185.7,606.0 1190.7,609.1 1195.6,612.1 1200.5,615.2 1205.5,618.3 1210.4,621.4 1215.3,624.5 1220.3,627.7 1225.2,630.9 1230.1,634.1 1235.1,637.3 1240.0,640.5 1245.0,643.8 1249.9,647.1 1254.8,650.4 1259.8,653.7 1264.7,657.0 1269.6,660.4 1274.6,663.8 1279.5,667.2 1284.4,670.6 1289.4,674.1 1294.3,677.6 1299.2,681.1 1304.2,684.6 1309.1,688.1 1314.1,691.7 1319.0,695.3 1323.9,698.9 1328.9,702.5 1333.8,706.1 1338.7,709.8 1343.7,713.5 1348.6,717.2 1353.5,721.0 1358.5,724.7 1363.4,728.5 1368.3,732.3 1373.3,736.1 1378.2,740.0 1383.1,743.9 1388.1,747.8 1393.0,751.7 1398.0,755.6 1402.9,759.6" fill="none" stroke="#2f6f74" stroke-width="1.0"/>
<polyline points="419.4,351.0 424.3,351.6 429.2,352.3 434.2,352.9 439.1,353.6 444.0,354.3 448.9,355.0 453.8,355.7 458.7,356.4 463.6,357.1 468.6,357.9 473.5,358.6 478.4,359.4 483.3,360.2 488.2,360.9 493.1,361.7 498.0,362.5 503.0,363.4 507.9,364.2 512.8,365.0 517.7,365.9 522.6,366.7 527.5,367.6 532.4,368.5 537.4,369.4 542.3,370.3 547.2,371.2 552.1,372.2 557.0,373.1 561.9,374.1 566.8,375.0 571.8,376.0 576.7,377.0 581.6,378.0 586.5,379.0 591.4,380.1 596.3,381.1 601.2,382.2 606.2,383.3 611.1,384.3 616.0,385.4 620.9,386.5 625.8,387.7 630.7,388.8 635.6,390.0 640.5,391.1 645.5,392.3 650.4,393.5 655.3,394.7 660.2,395.9 665.1,397.1 670.0,398.4 674.9,399.6 679.8,400.9 684.8,402.2 689.7,403.5 694.6,404.8 699.5,406.1 704.4,407.5 709.3,408.8 714.2,410.2 719.2,411.6 724.1,413.0 729.0,414.4 733.9,415.8 738.8,417.2 743.7,418.7 748.6,420.1 753.5,421.6 758.5,423.1 763.4,424.6 768.3,426.2 773.2,427.7 778.1,429.3 783.0,430.8 787.9,432.4 792.8,434.0 797.8,435.6 802.7,437.3 807.6,438.9 812.5,440.6 817.4,442.3 822.3,444.0 827.2,445.7 832.1,447.4 837.0,449.1 842.0,450.9 846.9,452.7 851.8,454.5 856.7,456.3 861.6,458.1 866.5,459.9 871.4,461.8 876.3,463.6 881.3,465.5 886.2,467.4 891.1,469.4 896.0,471.3 900.9,473.2 905.8,475.2 910.7,477.2 915.6,479.2 920.6,481.2 925.5,483.2 930.4,485.3 935.3,487.4 940.2,489.5 945.1,491.6 950.0,493.7 954.9,495.8 959.9,498.0 964.8,500.1 969.7,502.3 974.6,504.5 979.5,506.8 984.4,509.0 989.3,511.3 994.2,513.5 999.2,515.8 1004.1,518.2 1009.0,520.5 1013.9,522.8 1018.8,525.2 1023.7,527.6 1028.6,530.0 1033.5,532.4 1038.4,534.9 1043.4,537.3 1048.3,539.8 1053.2,542.3 1058.1,544.8 1063.0,547.3 1067.9,549.9 1072.8,552.5 1077.7,555.0 1082.7,557.7 1087.6,560.3 1092.5,562.9 1097.4,565.6 1102.3,568.3 1107.2,571.0 1112.1,573.7 1117.0,576.4 1122.0,579.2 1126.9,582.0 1131.8,584.8 1136.7,587.6 1141.6,590.4 1146.5,593.3 1151.4,596.2 1156.3,599.1 1161.3,602.0 1166.2,604.9 1171.1,607.9 1176.0,610.9 1180.9,613.9 1185.8,616.9 1190.7,619.9 1195.7,623.0 1200.6,626.1 1205.5,629.2 1210.4,632.3 1215.3,635.4 1220.2,638.6 1225.1,641.8 1230.0,645.0 1235.0,648.2 1239.9,651.5 1244.8,654.7 1249.7,658.0 1254.6,661.3 1259.5,664.7 1264.4,668.0 1269.4,671.4 1274.3,674.8 1279.2,678.2 1284.1,681.6 1289.0,685.1 1293.9,688.6 1298.8,692.1 1303.7,695.6 1308.7,699.1 1313.6,702.7 1318.5,706.3 1323.4,709.9 1328.3,713.5 1333.2,717.2 1338.1,720.9 1343.1,724.6 1348.0,728.3 1352.9,732.0 1357.8,735.8 1362.7,739.6 1367.6,743.4 1372.5,747.2 1377.5,751.1 1382.4,755.0 1387.3,758.9 1392.2,762.8 1397.1,766.8" fill="none" stroke="#2f6f74" stroke-width="1.0"/>
<polyline points="419.9,347.4 424.8,348.1 429.7,348.7 434.6,349.4 439.6,350.0 444.5,350.7 449.4,351.4 454.3,352.1 459.3,352.9 464.2,353.6 469.1,354.3 474.0,355.1 478.9,355.8 483.9,356.6 488.8,357.4 493.7,358.2 498.6,359.0 503.6,359.8 508.5,360.6 513.4,361.5 518.3,362.3 523.2,363.2 528.2,364.1 533.1,365.0 538.0,365.9 542.9,366.8 547.9,367.7 552.8,368.6 557.7,369.6 562.6,370.5 567.5,371.5 572.5,372.5 577.4,373.5 582.3,374.5 587.2,375.5 592.2,376.6 597.1,377.6 602.0,378.7 606.9,379.7 611.8,380.8 616.8,381.9 621.7,383.0 626.6,384.2 631.5,385.3 636.5,386.5 641.4,387.6 646.3,388.8 651.2,390.0 656.1,391.2 661.1,392.4 666.0,393.6 670.9,394.9 675.8,396.1 680.8,397.4 685.7,398.7 690.6,400.0 695.5,401.3 700.4,402.6 705.4,404.0 710.3,405.3 715.2,406.7 720.1,408.1 725.1,409.5 730.0,410.9 734.9,412.3 739.8,413.8 744.7,415.2 749.7,416.7 754.6,418.2 759.5,419.7 764.4,421.2 769.4,422.7 774.3,424.3 779.2,425.8 784.1,427.4 789.0,429.0 794.0,430.6 798.9,432.2 803.8,433.9 808.7,435.5 813.6,437.2 818.6,438.9 823.5,440.6 828.4,442.3 833.3,444.0 838.3,445.8 843.2,447.5 848.1,449.3 853.0,451.1 857.9,452.9 862.9,454.7 867.8,456.6 872.7,458.4 877.6,460.3 882.6,462.2 887.5,464.1 892.4,466.0 897.3,467.9 902.2,469.9 907.2,471.9 912.1,473.9 917.0,475.9 921.9,477.9 926.9,479.9 931.8,482.0 936.7,484.1 941.6,486.1 946.5,488.3 951.5,490.4 956.4,492.5 961.3,494.7 966.2,496.9 971.1,499.0 976.1,501.3 981.0,503.5 985.9,505.7 990.8,508.0 995.8,510.3 1000.7,512.6 1005.6,514.9 1010.5,517.2 1015.4,519.6 1020.4,522.0 1025.3,524.4 1030.2,526.8 1035.1,529.2 1040.1,531.6 1045.0,534.1 1049.9,536.6 1054.8,539.1 1059.7,541.6 1064.7,544.1 1069.6,546.7 1074.5,549.3 1079.4,551.9 1084.4,554.5 1089.3,557.1 1094.2,559.8 1099.1,562.4 1104.0,565.1 1109.0,567.8 1113.9,570.6 1118.8,573.3 1123.7,576.1 1128.7,578.9 1133.6,581.7 1138.5,584.5 1143.4,587.3 1148.3,590.2 1153.3,593.1 1158.2,596.0 1163.1,598.9 1168.0,601.9 1173.0,604.8 1177.9,607.8 1182.8,610.8 1187.7,613.8 1192.6,616.9 1197.6,619.9 1202.5,623.0 1207.4,626.1 1212.3,629.3 1217.2,632.4 1222.2,635.6 1227.1,638.8 1232.0,642.0 1236.9,645.2 1241.9,648.5 1246.8,651.7 1251.7,655.0 1256.6,658.3 1261.5,661.7 1266.5,665.0 1271.4,668.4 1276.3,671.8 1281.2,675.2 1286.2,678.7 1291.1,682.1 1296.0,685.6 1300.9,689.1 1305.8,692.7 1310.8,696.2 1315.7,699.8 1320.6,703.4 1325.5,707.0 1330.5,710.6 1335.4,714.3 1340.3,718.0 1345.2,721.7 1350.1,725.4 1355.1,729.2 1360.0,732.9 1364.9,736.7 1369.8,740.6 1374.8,744.4 1379.7,748.3 1384.6,752.2 1389.5,756.1 1394.5,760.0 1399.4,764.0" fill="none" stroke="#e0557a" stroke-width="0.8" stroke-dasharray="6 3"/>
<polyline points="423.1,322.1 428.1,322.8 433.1,323.4 438.1,324.1 443.0,324.8 448.0,325.5 453.0,326.2 458.0,326.9 463.0,327.6 467.9,328.4 472.9,329.1 477.9,329.9 482.9,330.6 487.8,331.4 492.8,332.2 497.8,333.0 502.8,333.8 507.8,334.7 512.7,335.5 517.7,336.3 522.7,337.2 527.7,338.1 532.7,339.0 537.6,339.9 542.6,340.8 547.6,341.7 552.6,342.6 557.6,343.6 562.6,344.5 567.5,345.5 572.5,346.5 577.5,347.5 582.5,348.5 587.5,349.5 592.4,350.6 597.4,351.6 602.4,352.7 607.4,353.7 612.4,354.8 617.4,355.9 622.4,357.0 627.3,358.2 632.3,359.3 637.3,360.5 642.3,361.6 647.3,362.8 652.3,364.0 657.2,365.2 662.2,366.4 667.2,367.7 672.2,368.9 677.2,370.2 682.2,371.4 687.2,372.7 692.2,374.0 697.1,375.4 702.1,376.7 707.1,378.0 712.1,379.4 717.1,380.8 722.1,382.2 727.1,383.6 732.1,385.0 737.0,386.4 742.0,387.9 747.0,389.3 752.0,390.8 757.0,392.3 762.0,393.8 767.0,395.3 772.0,396.8 777.0,398.4 781.9,400.0 786.9,401.5 791.9,403.1 796.9,404.8 801.9,406.4 806.9,408.0 811.9,409.7 816.9,411.4 821.9,413.0 826.9,414.7 831.8,416.5 836.8,418.2 841.8,420.0 846.8,421.7 851.8,423.5 856.8,425.3 861.8,427.1 866.8,429.0 871.8,430.8 876.8,432.7 881.7,434.6 886.7,436.5 891.7,438.4 896.7,440.3 901.7,442.3 906.7,444.2 911.7,446.2 916.7,448.2 921.7,450.2 926.7,452.3 931.7,454.3 936.6,456.4 941.6,458.5 946.6,460.6 951.6,462.7 956.6,464.8 961.6,467.0 966.6,469.2 971.6,471.3 976.6,473.5 981.6,475.8 986.6,478.0 991.5,480.3 996.5,482.6 1001.5,484.9 1006.5,487.2 1011.5,489.5 1016.5,491.8 1021.5,494.2 1026.5,496.6 1031.5,499.0 1036.5,501.4 1041.5,503.9 1046.4,506.3 1051.4,508.8 1056.4,511.3 1061.4,513.8 1066.4,516.4 1071.4,518.9 1076.4,521.5 1081.4,524.1 1086.4,526.7 1091.4,529.3 1096.3,532.0 1101.3,534.6 1106.3,537.3 1111.3,540.0 1116.3,542.8 1121.3,545.5 1126.3,548.3 1131.3,551.1 1136.3,553.9 1141.2,556.7 1146.2,559.5 1151.2,562.4 1156.2,565.3 1161.2,568.2 1166.2,571.1 1171.2,574.0 1176.2,577.0 1181.2,580.0 1186.1,583.0 1191.1,586.0 1196.1,589.1 1201.1,592.1 1206.1,595.2 1211.1,598.3 1216.1,601.4 1221.0,604.6 1226.0,607.8 1231.0,610.9 1236.0,614.2 1241.0,617.4 1246.0,620.6 1251.0,623.9 1255.9,627.2 1260.9,630.5 1265.9,633.9 1270.9,637.2 1275.9,640.6 1280.9,644.0 1285.9,647.4 1290.8,650.9 1295.8,654.3 1300.8,657.8 1305.8,661.3 1310.8,664.8 1315.8,668.4 1320.7,672.0 1325.7,675.6 1330.7,679.2 1335.7,682.8 1340.7,686.5 1345.6,690.2 1350.6,693.9 1355.6,697.6 1360.6,701.3 1365.6,705.1 1370.6,708.9 1375.5,712.7 1380.5,716.6 1385.5,720.4 1390.5,724.3 1395.5,728.2 1400.4,732.2 1405.4,736.1 1410.4,740.1 1415.4,744.1" fill="none" stroke="#2053a8" stroke-width="4.2"/>
<polyline points="423.1,322.1 428.1,322.8 433.1,323.4 438.1,324.1 443.0,324.8 448.0,325.5 453.0,326.2 458.0,326.9 463.0,327.6 467.9,328.4 472.9,329.1 477.9,329.9 482.9,330.6 487.8,331.4 492.8,332.2 497.8,333.0 502.8,333.8 507.8,334.7 512.7,335.5 517.7,336.3 522.7,337.2 527.7,338.1 532.7,339.0 537.6,339.9 542.6,340.8 547.6,341.7 552.6,342.6 557.6,343.6 562.6,344.5 567.5,345.5 572.5,346.5 577.5,347.5 582.5,348.5 587.5,349.5 592.4,350.6 597.4,351.6 602.4,352.7 607.4,353.7 612.4,354.8 617.4,355.9 622.4,357.0 627.3,358.2 632.3,359.3 637.3,360.5 642.3,361.6 647.3,362.8 652.3,364.0 657.2,365.2 662.2,366.4 667.2,367.7 672.2,368.9 677.2,370.2 682.2,371.4 687.2,372.7 692.2,374.0 697.1,375.4 702.1,376.7 707.1,378.0 712.1,379.4 717.1,380.8 722.1,382.2 727.1,383.6 732.1,385.0 737.0,386.4 742.0,387.9 747.0,389.3 752.0,390.8 757.0,392.3 762.0,393.8 767.0,395.3 772.0,396.8 777.0,398.4 781.9,400.0 786.9,401.5 791.9,403.1 796.9,404.8 801.9,406.4 806.9,408.0 811.9,409.7 816.9,411.4 821.9,413.0 826.9,414.7 831.8,416.5 836.8,418.2 841.8,420.0 846.8,421.7 851.8,423.5 856.8,425.3 861.8,427.1 866.8,429.0 871.8,430.8 876.8,432.7 881.7,434.6 886.7,436.5 891.7,438.4 896.7,440.3 901.7,442.3 906.7,444.2 911.7,446.2 916.7,448.2 921.7,450.2 926.7,452.3 931.7,454.3 936.6,456.4 941.6,458.5 946.6,460.6 951.6,462.7 956.6,464.8 961.6,467.0 966.6,469.2 971.6,471.3 976.6,473.5 981.6,475.8 986.6,478.0 991.5,480.3 996.5,482.6 1001.5,484.9 1006.5,487.2 1011.5,489.5 1016.5,491.8 1021.5,494.2 1026.5,496.6 1031.5,499.0 1036.5,501.4 1041.5,503.9 1046.4,506.3 1051.4,508.8 1056.4,511.3 1061.4,513.8 1066.4,516.4 1071.4,518.9 1076.4,521.5 1081.4,524.1 1086.4,526.7 1091.4,529.3 1096.3,532.0 1101.3,534.6 1106.3,537.3 1111.3,540.0 1116.3,542.8 1121.3,545.5 1126.3,548.3 1131.3,551.1 1136.3,553.9 1141.2,556.7 1146.2,559.5 1151.2,562.4 1156.2,565.3 1161.2,568.2 1166.2,571.1 1171.2,574.0 1176.2,577.0 1181.2,580.0 1186.1,583.0 1191.1,586.0 1196.1,589.1 1201.1,592.1 1206.1,595.2 1211.1,598.3 1216.1,601.4 1221.0,604.6 1226.0,607.8 1231.0,610.9 1236.0,614.2 1241.0,617.4 1246.0,620.6 1251.0,623.9 1255.9,627.2 1260.9,630.5 1265.9,633.9 1270.9,637.2 1275.9,640.6 1280.9,644.0 1285.9,647.4 1290.8,650.9 1295.8,654.3 1300.8,657.8 1305.8,661.3 1310.8,664.8 1315.8,668.4 1320.7,672.0 1325.7,675.6 1330.7,679.2 1335.7,682.8 1340.7,686.5 1345.6,690.2 1350.6,693.9 1355.6,697.6 1360.6,701.3 1365.6,705.1 1370.6,708.9 1375.5,712.7 1380.5,716.6 1385.5,720.4 1390.5,724.3 1395.5,728.2 1400.4,732.2 1405.4,736.1 1410.4,740.1 1415.4,744.1" fill="none" stroke="#e83c78" stroke-width="4.2" stroke-dasharray="5 12"/>
<polyline points="416.7,371.9 421.6,372.5 426.4,373.2 431.3,373.8 436.2,374.5 441.1,375.2 445.9,375.9 450.8,376.6 455.7,377.3 460.5,378.0 465.4,378.7 470.3,379.5 475.1,380.2 480.0,381.0 484.9,381.8 489.7,382.6 494.6,383.4 499.5,384.2 504.3,385.0 509.2,385.8 514.1,386.7 518.9,387.5 523.8,388.4 528.7,389.3 533.5,390.1 538.4,391.1 543.3,392.0 548.1,392.9 553.0,393.8 557.9,394.8 562.7,395.7 567.6,396.7 572.5,397.7 577.3,398.7 582.2,399.7 587.0,400.7 591.9,401.8 596.8,402.8 601.6,403.9 606.5,404.9 611.4,406.0 616.2,407.1 621.1,408.2 625.9,409.4 630.8,410.5 635.7,411.6 640.5,412.8 645.4,414.0 650.2,415.2 655.1,416.4 660.0,417.6 664.8,418.8 669.7,420.1 674.5,421.3 679.4,422.6 684.3,423.9 689.1,425.2 694.0,426.5 698.8,427.8 703.7,429.1 708.6,430.5 713.4,431.9 718.3,433.2 723.1,434.6 728.0,436.0 732.8,437.5 737.7,438.9 742.6,440.4 747.4,441.8 752.3,443.3 757.1,444.8 762.0,446.3 766.8,447.8 771.7,449.4 776.6,450.9 781.4,452.5 786.3,454.1 791.1,455.7 796.0,457.3 800.8,458.9 805.7,460.6 810.5,462.2 815.4,463.9 820.3,465.6 825.1,467.3 830.0,469.0 834.8,470.8 839.7,472.5 844.5,474.3 849.4,476.1 854.2,477.9 859.1,479.7 864.0,481.5 868.8,483.4 873.7,485.2 878.5,487.1 883.4,489.0 888.2,490.9 893.1,492.8 897.9,494.8 902.8,496.7 907.7,498.7 912.5,500.7 917.4,502.7 922.2,504.8 927.1,506.8 931.9,508.9 936.8,510.9 941.6,513.0 946.5,515.2 951.3,517.3 956.2,519.4 961.1,521.6 965.9,523.8 970.8,526.0 975.6,528.2 980.5,530.4 985.3,532.7 990.2,534.9 995.0,537.2 999.9,539.5 1004.8,541.9 1009.6,544.2 1014.5,546.6 1019.3,548.9 1024.2,551.3 1029.0,553.7 1033.9,556.2 1038.7,558.6 1043.6,561.1 1048.5,563.6 1053.3,566.1 1058.2,568.6 1063.0,571.1 1067.9,573.7 1072.7,576.3 1077.6,578.9 1082.5,581.5 1087.3,584.1 1092.2,586.8 1097.0,589.4 1101.9,592.1 1106.7,594.9 1111.6,597.6 1116.5,600.3 1121.3,603.1 1126.2,605.9 1131.0,608.7 1135.9,611.5 1140.7,614.4 1145.6,617.2 1150.5,620.1 1155.3,623.0 1160.2,626.0 1165.0,628.9 1169.9,631.9 1174.8,634.9 1179.6,637.9 1184.5,640.9 1189.3,643.9 1194.2,647.0 1199.1,650.1 1203.9,653.2 1208.8,656.3 1213.6,659.5 1218.5,662.6 1223.4,665.8 1228.2,669.0 1233.1,672.3 1237.9,675.5 1242.8,678.8 1247.7,682.1 1252.5,685.4 1257.4,688.8 1262.2,692.1 1267.1,695.5 1272.0,698.9 1276.8,702.3 1281.7,705.8 1286.6,709.2 1291.4,712.7 1296.3,716.2 1301.2,719.8 1306.0,723.3 1310.9,726.9 1315.7,730.5 1320.6,734.1 1325.5,737.7 1330.3,741.4 1335.2,745.1 1340.1,748.8 1344.9,752.5 1349.8,756.3 1354.7,760.1 1359.5,763.9 1364.4,767.7 1369.3,771.5 1374.1,775.4 1379.0,779.3 1383.9,783.2" fill="none" stroke="#2053a8" stroke-width="4.2"/>
<polyline points="416.7,371.9 421.6,372.5 426.4,373.2 431.3,373.8 436.2,374.5 441.1,375.2 445.9,375.9 450.8,376.6 455.7,377.3 460.5,378.0 465.4,378.7 470.3,379.5 475.1,380.2 480.0,381.0 484.9,381.8 489.7,382.6 494.6,383.4 499.5,384.2 504.3,385.0 509.2,385.8 514.1,386.7 518.9,387.5 523.8,388.4 528.7,389.3 533.5,390.1 538.4,391.1 543.3,392.0 548.1,392.9 553.0,393.8 557.9,394.8 562.7,395.7 567.6,396.7 572.5,397.7 577.3,398.7 582.2,399.7 587.0,400.7 591.9,401.8 596.8,402.8 601.6,403.9 606.5,404.9 611.4,406.0 616.2,407.1 621.1,408.2 625.9,409.4 630.8,410.5 635.7,411.6 640.5,412.8 645.4,414.0 650.2,415.2 655.1,416.4 660.0,417.6 664.8,418.8 669.7,420.1 674.5,421.3 679.4,422.6 684.3,423.9 689.1,425.2 694.0,426.5 698.8,427.8 703.7,429.1 708.6,430.5 713.4,431.9 718.3,433.2 723.1,434.6 728.0,436.0 732.8,437.5 737.7,438.9 742.6,440.4 747.4,441.8 752.3,443.3 757.1,444.8 762.0,446.3 766.8,447.8 771.7,449.4 776.6,450.9 781.4,452.5 786.3,454.1 791.1,455.7 796.0,457.3 800.8,458.9 805.7,460.6 810.5,462.2 815.4,463.9 820.3,465.6 825.1,467.3 830.0,469.0 834.8,470.8 839.7,472.5 844.5,474.3 849.4,476.1 854.2,477.9 859.1,479.7 864.0,481.5 868.8,483.4 873.7,485.2 878.5,487.1 883.4,489.0 888.2,490.9 893.1,492.8 897.9,494.8 902.8,496.7 907.7,498.7 912.5,500.7 917.4,502.7 922.2,504.8 927.1,506.8 931.9,508.9 936.8,510.9 941.6,513.0 946.5,515.2 951.3,517.3 956.2,519.4 961.1,521.6 965.9,523.8 970.8,526.0 975.6,528.2 980.5,530.4 985.3,532.7 990.2,534.9 995.0,537.2 999.9,539.5 1004.8,541.9 1009.6,544.2 1014.5,546.6 1019.3,548.9 1024.2,551.3 1029.0,553.7 1033.9,556.2 1038.7,558.6 1043.6,561.1 1048.5,563.6 1053.3,566.1 1058.2,568.6 1063.0,571.1 1067.9,573.7 1072.7,576.3 1077.6,578.9 1082.5,581.5 1087.3,584.1 1092.2,586.8 1097.0,589.4 1101.9,592.1 1106.7,594.9 1111.6,597.6 1116.5,600.3 1121.3,603.1 1126.2,605.9 1131.0,608.7 1135.9,611.5 1140.7,614.4 1145.6,617.2 1150.5,620.1 1155.3,623.0 1160.2,626.0 1165.0,628.9 1169.9,631.9 1174.8,634.9 1179.6,637.9 1184.5,640.9 1189.3,643.9 1194.2,647.0 1199.1,650.1 1203.9,653.2 1208.8,656.3 1213.6,659.5 1218.5,662.6 1223.4,665.8 1228.2,669.0 1233.1,672.3 1237.9,675.5 1242.8,678.8 1247.7,682.1 1252.5,685.4 1257.4,688.8 1262.2,692.1 1267.1,695.5 1272.0,698.9 1276.8,702.3 1281.7,705.8 1286.6,709.2 1291.4,712.7 1296.3,716.2 1301.2,719.8 1306.0,723.3 1310.9,726.9 1315.7,730.5 1320.6,734.1 1325.5,737.7 1330.3,741.4 1335.2,745.1 1340.1,748.8 1344.9,752.5 1349.8,756.3 1354.7,760.1 1359.5,763.9 1364.4,767.7 1369.3,771.5 1374.1,775.4 1379.0,779.3 1383.9,783.2" fill="none" stroke="#e83c78" stroke-width="4.2" stroke-dasharray="5 12"/>
<polyline points="443.0,253.1 451.5,254.2 460.1,255.5 468.6,256.7 477.2,258.0 485.7,259.3 494.3,260.6 502.8,262.0 511.4,263.4 519.9,264.8 528.5,266.3 537.0,267.8 545.6,269.4 554.1,270.9 562.6,272.5 571.2,274.2 579.7,275.9 588.3,277.6 596.8,279.3 605.4,281.1 613.9,282.9 622.5,284.8 631.0,286.7 639.6,288.6 648.1,290.6 656.7,292.6 665.2,294.6 673.7,296.7 682.3,298.8 690.8,301.0 699.4,303.2 707.9,305.4 716.5,307.7 725.0,310.0 733.6,312.4 742.1,314.8 750.7,317.2 759.2,319.7 767.8,322.2 776.3,324.7 784.8,327.3 793.4,330.0 801.9,332.7 810.5,335.4 819.0,338.1 827.6,341.0 836.1,343.8 844.7,346.7 853.2,349.6 861.8,352.6 870.3,355.7 878.9,358.7 887.4,361.8 895.9,365.0 904.5,368.2 913.0,371.5 921.6,374.8 930.1,378.1 938.7,381.5 947.2,384.9 955.8,388.4 964.3,392.0 972.9,395.5 981.4,399.2 990.0,402.8 998.5,406.6 1007.1,410.3 1015.6,414.1 1024.1,418.0 1032.7,421.9 1041.2,425.9 1049.8,429.9 1058.3,434.0 1066.9,438.1 1075.4,442.3 1084.0,446.5 1092.5,450.8 1101.1,455.1 1109.6,459.5 1118.2,463.9 1126.7,468.4 1135.2,472.9 1143.8,477.5 1152.3,482.1 1160.9,486.8 1169.4,491.6 1178.0,496.4 1186.5,501.2 1195.1,506.1 1203.6,511.1 1212.2,516.1 1220.7,521.2 1229.3,526.3 1237.8,531.5 1246.3,536.7 1254.9,542.0 1263.4,547.4 1272.0,552.8 1280.5,558.2 1289.1,563.8 1297.6,569.3 1306.2,575.0 1314.7,580.7 1323.3,586.4 1331.8,592.3 1340.4,598.1 1348.9,604.1 1357.4,610.1 1366.0,616.1 1374.5,622.2 1383.1,628.4 1391.6,634.6 1400.2,640.9 1408.7,647.3 1417.3,653.7 1425.8,660.2 1434.4,666.7 1442.9,673.3 1451.5,680.0 1460.0,686.7" fill="none" stroke="#151515" stroke-width="1.6"/>
<polyline points="443.0,447.3 448.6,448.0 454.2,448.7 459.8,449.5 465.4,450.2 471.0,451.0 476.6,451.8 482.2,452.7 487.8,453.5 493.4,454.4 499.1,455.3 504.7,456.2 510.3,457.1 515.9,458.1 521.5,459.0 527.1,460.0 532.7,461.1 538.3,462.1 543.9,463.2 549.5,464.3 555.1,465.4 560.7,466.5 566.3,467.7 571.9,468.8 577.5,470.0 583.1,471.3 588.7,472.5 594.3,473.8 599.9,475.0 605.5,476.3 611.2,477.7 616.8,479.0 622.4,480.4 628.0,481.8 633.6,483.2 639.2,484.6 644.8,486.1 650.4,487.5 656.0,489.0 661.6,490.5 667.2,492.1 672.8,493.6 678.4,495.2 684.0,496.8 689.6,498.4 695.2,500.1 700.8,501.7 706.4,503.4 712.0,505.1 717.6,506.9 723.3,508.6 728.9,510.4 734.5,512.2 740.1,514.0 745.7,515.8 751.3,517.6 756.9,519.5 762.5,521.4 768.1,523.3 773.7,525.2 779.3,527.2 784.9,529.2 790.5,531.2 796.1,533.2 801.7,535.2 807.3,537.2 812.9,539.3 818.5,541.4 824.1,543.5 829.7,545.7 835.4,547.8 841.0,550.0 846.6,552.2 852.2,554.4 857.8,556.6 863.4,558.9 869.0,561.1 874.6,563.4 880.2,565.7 885.8,568.1 891.4,570.4 897.0,572.8 902.6,575.2 908.2,577.6 913.8,580.0 919.4,582.5 925.0,584.9 930.6,587.4 936.2,589.9 941.8,592.4 947.5,595.0 953.1,597.6 958.7,600.1 964.3,602.7 969.9,605.4 975.5,608.0 981.1,610.7 986.7,613.3 992.3,616.0 997.9,618.8 1003.5,621.5 1009.1,624.3 1014.7,627.0 1020.3,629.8 1025.9,632.6 1031.5,635.5 1037.1,638.3 1042.7,641.2 1048.3,644.1 1053.9,647.0 1059.6,649.9 1065.2,652.9 1070.8,655.8 1076.4,658.8 1082.0,661.8 1087.6,664.8 1093.2,667.8 1098.8,670.9 1104.4,674.0 1110.0,677.1" fill="none" stroke="#151515" stroke-width="1.6"/>
<polyline points="443.0,308.3 600.0,328.0 760.0,344.7 871.0,356.5" fill="none" stroke="#1ea6c6" stroke-width="3" stroke-dasharray="32 7"/>
</g>
<line x1="442.6" y1="219.0" x2="442.6" y2="488.0" stroke="#1a1a1a" stroke-width="1.4"/>
<line x1="989.0" y1="668.2" x2="1505.6" y2="669.4" stroke="#1a1a1a" stroke-width="1.4"/>
<g clip-path="url(#map)">
<polyline points="652.0,376.0 647.3,362.0 685.3,298.7 679.3,276.0" fill="none" stroke="#27a3b8" stroke-width="1.6"/>
<line x1="685.3" y1="298.7" x2="700.0" y2="282.7" stroke="#27a3b8" stroke-width="1.6"/>
<polyline points="818.0,425.0 847.5,428.3 859.0,441.7" fill="none" stroke="#56c8d8" stroke-width="2"/>
<polyline points="984.0,390.7 986.7,456.0 1000.0,482.0" fill="none" stroke="#27a3b8" stroke-width="1.5"/>
<polyline points="992.0,394.7 993.3,456.0 1006.0,482.0" fill="none" stroke="#27a3b8" stroke-width="1.5"/>
<line x1="1009.3" y1="416.0" x2="970.7" y2="465.3" stroke="#1fa9cc" stroke-width="3.2"/>
<polyline points="955.0,485.0 878.5,580.0" fill="none" stroke="#1fa9cc" stroke-width="3.2" stroke-dasharray="16 6"/>
<line x1="898.0" y1="482.8" x2="971.5" y2="620.5" stroke="#27a3b8" stroke-width="1.5"/>
<line x1="1030.6" y1="540.0" x2="1110.0" y2="668.0" stroke="#27a3b8" stroke-width="1.5"/>
<line x1="1039.0" y1="540.0" x2="1115.6" y2="668.0" stroke="#27a3b8" stroke-width="1.5"/>
<line x1="1074.6" y1="561.0" x2="1110.0" y2="640.0" stroke="#27a3b8" stroke-width="1.3"/>
<line x1="1000.0" y1="520.0" x2="1060.0" y2="668.0" stroke="#60c0cc" stroke-width="1.2"/>
<line x1="959.8" y1="621.0" x2="1161.0" y2="642.7" stroke="#1b93b5" stroke-width="3.2"/>
<line x1="963.0" y1="628.0" x2="1165.0" y2="650.0" stroke="#27a3b8" stroke-width="1.6"/>
<line x1="1161.0" y1="642.7" x2="1210.2" y2="648.4" stroke="#1b93b5" stroke-width="2.6"/>
<line x1="1165.0" y1="650.0" x2="1210.0" y2="655.0" stroke="#27a3b8" stroke-width="1.3"/>
<line x1="1217.0" y1="650.2" x2="1231.5" y2="656.4" stroke="#27a3b8" stroke-width="1.5"/>
<polyline points="1240.0,655.0 1279.3,660.0 1305.8,660.8 1336.0,666.0 1371.0,669.0" fill="none" stroke="#1b93b5" stroke-width="2.6"/>
<polyline points="1080.0,536.5 1125.0,545.5 1217.0,561.5 1280.0,568.5 1365.0,570.6" fill="none" stroke="#27a3b8" stroke-width="1.6"/>
<polygon points="1023.3,497.5 1028.3,515 997.5,538.3 1007.5,541.7 1035.8,516.7 1031.7,497.5" fill="#f3b4cc" stroke="#e24c86" stroke-width="2" stroke-linejoin="round" opacity="0.85"/>
<circle cx="1022" cy="494" r="3" fill="#1f4f9a"/>
<circle cx="1031" cy="497.5" r="3" fill="#1f4f9a"/>
<circle cx="1001" cy="540" r="3" fill="#1f4f9a"/>
<circle cx="1006" cy="543" r="3" fill="#1f4f9a"/>
<rect x="963.0" y="464.3" width="8.0" height="8.0" fill="#ec5a92" stroke="#5a2040" stroke-width="1"/>
<rect x="929.3" y="506.4" width="8.0" height="8.0" fill="#ec5a92" stroke="#5a2040" stroke-width="1"/>
<rect x="952.2" y="479.3" width="8.0" height="8.0" fill="#4fb0c8" stroke="#23405a" stroke-width="1"/>
<line x1="956.2" y1="479.3" x2="956.2" y2="487.3" stroke="#23405a" stroke-width="0.8"/>
<line x1="650.0" y1="264.7" x2="713.3" y2="336.7" stroke="#1c1c1c" stroke-width="1.0"/>
<line x1="794.5" y1="412.6" x2="935.3" y2="411.0" stroke="#1c1c1c" stroke-width="1.0"/>
<line x1="935.3" y1="411.0" x2="955.3" y2="482.7" stroke="#1c1c1c" stroke-width="1.0"/>
<line x1="1046.0" y1="478.8" x2="1212.0" y2="478.8" stroke="#1c1c1c" stroke-width="1.0"/>
<line x1="1031.8" y1="479.2" x2="972.0" y2="470.0" stroke="#1c1c1c" stroke-width="1.0"/>
<line x1="1031.8" y1="479.2" x2="933.0" y2="510.4" stroke="#1c1c1c" stroke-width="1.0"/>
<line x1="1103.8" y1="390.5" x2="1016.0" y2="446.7" stroke="#1c1c1c" stroke-width="1.0"/>
<line x1="1006.7" y1="409.3" x2="1022.7" y2="494.7" stroke="#1c1c1c" stroke-width="1.0"/>
<line x1="1013.3" y1="413.3" x2="1031.3" y2="497.3" stroke="#1c1c1c" stroke-width="1.0"/>
<line x1="1017.9" y1="593.1" x2="1061.8" y2="577.5" stroke="#1c1c1c" stroke-width="1.0"/>
<line x1="926.5" y1="595.0" x2="1000.0" y2="541.0" stroke="#1c1c1c" stroke-width="1.0"/>
<line x1="934.0" y1="598.0" x2="1005.0" y2="546.0" stroke="#1c1c1c" stroke-width="1.0"/>
<line x1="1001.0" y1="636.3" x2="1059.0" y2="636.3" stroke="#1c1c1c" stroke-width="1.0"/>
<line x1="603.0" y1="434.7" x2="673.2" y2="415.2" stroke="#1c1c1c" stroke-width="1.0"/>
<line x1="615.7" y1="508.3" x2="801.4" y2="508.3" stroke="#1c1c1c" stroke-width="1.0"/>
<line x1="801.4" y1="508.3" x2="844.3" y2="447.3" stroke="#1c1c1c" stroke-width="1.0"/>
<line x1="873.0" y1="513.0" x2="887.5" y2="509.5" stroke="#1c1c1c" stroke-width="1.0"/>
<line x1="899.5" y1="506.5" x2="997.0" y2="493.0" stroke="#1c1c1c" stroke-width="1.0"/>
<line x1="938.5" y1="509.5" x2="1000.0" y2="490.0" stroke="#1c1c1c" stroke-width="1.0"/>
<line x1="1199.0" y1="601.8" x2="1327.7" y2="583.6" stroke="#1c1c1c" stroke-width="1.0"/>
<line x1="1054.0" y1="508.0" x2="1062.0" y2="508.0" stroke="#1c1c1c" stroke-width="1.0"/>
<line x1="486.0" y1="404.0" x2="467.0" y2="401.0" stroke="#1c1c1c" stroke-width="1.0"/>
<line x1="496.5" y1="326.0" x2="492.4" y2="330.4" stroke="#1c1c1c" stroke-width="1.0"/>
<line x1="566.8" y1="340.0" x2="562.3" y2="344.5" stroke="#1c1c1c" stroke-width="1.0"/>
<line x1="635.8" y1="356.0" x2="632.3" y2="360.5" stroke="#1c1c1c" stroke-width="1.0"/>
<line x1="704.9" y1="371.0" x2="701.3" y2="376.4" stroke="#1c1c1c" stroke-width="1.0"/>
<line x1="763.3" y1="389.7" x2="768.6" y2="396.8" stroke="#1c1c1c" stroke-width="1.0"/>
<line x1="698.7" y1="425.0" x2="698.7" y2="437.5" stroke="#1c1c1c" stroke-width="1.0"/>
</g>
<text x="582.3" y="260.7" font-family="Liberation Sans" font-size="11" fill="#1c1c1c" stroke="#1c1c1c" stroke-width="0.25" font-style="italic" textLength="120.4" lengthAdjust="spacingAndGlyphs">66:36:0000000:197/318</text>
<text x="565.5" y="301.0" font-family="Liberation Sans" font-size="13" fill="#1c1c1c" stroke="#1c1c1c" stroke-width="0.25" font-style="italic">57</text>
<text x="482.3" y="304.8" font-family="Liberation Sans" font-size="10.5" fill="#1c1c1c" stroke="#1c1c1c" stroke-width="0.25" font-style="italic" textLength="62.0" lengthAdjust="spacingAndGlyphs" transform="rotate(7.7 482.3 304.8)">Вл 6-кВ 3 пр.</text>
<text x="841.5" y="323.5" font-family="Liberation Sans" font-size="11" fill="#1c1c1c" stroke="#1c1c1c" stroke-width="0.25" font-style="italic" textLength="23.0" lengthAdjust="spacing">:197</text>
<text x="462.9" y="397.0" font-family="Liberation Sans" font-size="9.5" fill="#1c1c1c" stroke="#1c1c1c" stroke-width="0.25" font-style="italic" textLength="33.0" lengthAdjust="spacingAndGlyphs">п.Аять</text>
<polyline points="472.0,398.5 467.0,401.0 471.5,404.5" fill="none" stroke="#1c1c1c" stroke-width="1"/>
<text x="777.0" y="387.9" font-family="Liberation Sans" font-size="11" fill="#1c1c1c" stroke="#1c1c1c" stroke-width="0.25" font-style="italic" textLength="157.8" lengthAdjust="spacingAndGlyphs">Существующая опора Вл-6кВ,</text>
<text x="795.2" y="404.2" font-family="Liberation Sans" font-size="11" fill="#1c1c1c" stroke="#1c1c1c" stroke-width="0.25" font-style="italic" textLength="126.6" lengthAdjust="spacingAndGlyphs">подлежащая демонтажу</text>
<text x="1057.7" y="386.6" font-family="Liberation Sans" font-size="11.5" fill="#1c1c1c" stroke="#1c1c1c" stroke-width="0.25" font-style="italic" textLength="122.0" lengthAdjust="spacingAndGlyphs">66:36:0000000:197/208</text>
<text x="1041.4" y="454.8" font-family="Liberation Sans" font-size="11" fill="#1c1c1c" stroke="#1c1c1c" stroke-width="0.25" font-style="italic" textLength="159.0" lengthAdjust="spacingAndGlyphs">Проектируемые опоры Вл-6кВ,</text>
<text x="1042.0" y="471.7" font-family="Liberation Sans" font-size="11" fill="#1c1c1c" stroke="#1c1c1c" stroke-width="0.25" font-style="italic" textLength="162.4" lengthAdjust="spacingAndGlyphs">в результате переустройства</text>
<text x="671.6" y="483.5" font-family="Liberation Sans" font-size="9.5" fill="#1c1c1c" stroke="#1c1c1c" stroke-width="0.25" font-style="italic" text-anchor="middle" textLength="184.0" lengthAdjust="spacingAndGlyphs">Проектируемая автомобильная дорога</text>
<text x="674.0" y="499.0" font-family="Liberation Sans" font-size="9.5" fill="#1c1c1c" stroke="#1c1c1c" stroke-width="0.25" font-style="italic" text-anchor="middle" textLength="165.0" lengthAdjust="spacing">п. Сагра - п. Аять (IV категория)</text>
<text x="592.3" y="568.0" font-family="Liberation Sans" font-size="11" fill="#1c1c1c" stroke="#1c1c1c" stroke-width="0.25" font-style="italic" textLength="71.5" lengthAdjust="spacingAndGlyphs">66:36:3101001</text>
<text x="533.9" y="499.5" font-family="Liberation Sans" font-size="13.5" fill="#2f5f8a" stroke="#2f5f8a" stroke-width="0.25" font-style="italic">16</text>
<text x="1197.8" y="546.5" font-family="Liberation Sans" font-size="13" fill="#1c1c1c" stroke="#1c1c1c" stroke-width="0.25" font-style="italic">58</text>
<text x="1310.8" y="632.5" font-family="Liberation Sans" font-size="13" fill="#1c1c1c" stroke="#1c1c1c" stroke-width="0.25" font-style="italic">65</text>
<text x="1065.0" y="629.0" font-family="Liberation Sans" font-size="13" fill="#1c1c1c" stroke="#1c1c1c" stroke-width="0.25" font-style="italic">69</text>
<text x="946.0" y="607.5" font-family="Liberation Sans" font-size="10" fill="#1c1c1c" stroke="#1c1c1c" stroke-width="0.25" font-style="italic" textLength="102.0" lengthAdjust="spacingAndGlyphs">Ликвидируемый съезд</text>
<text x="908.5" y="640.0" font-family="Liberation Sans" font-size="10" fill="#1c1c1c" stroke="#1c1c1c" stroke-width="0.25" font-style="italic" textLength="91.0" lengthAdjust="spacingAndGlyphs">Сущ. грунт. дорога</text>
<text x="919.0" y="665.5" font-family="Liberation Sans" font-size="10" fill="#1c1c1c" stroke="#1c1c1c" stroke-width="0.25" font-style="italic" textLength="136.0" lengthAdjust="spacingAndGlyphs">Линия совмещения сЛистом №4</text>
<text x="456.0" y="586.0" font-family="Liberation Sans" font-size="9.5" fill="#1c1c1c" stroke="#1c1c1c" stroke-width="0.25" font-style="italic" textLength="156.0" lengthAdjust="spacing" transform="rotate(-90 456.0 586.0)">Линия совмещения с Листом №6</text>
<text x="957.0" y="470.0" font-family="Liberation Sans" font-size="11" fill="#1c1c1c" stroke="#1c1c1c" stroke-width="0.25" font-style="italic" textLength="68.0" lengthAdjust="spacing" transform="rotate(-52 957.0 470.0)">Вл-6кВ 3 пр</text>
<text x="836.0" y="619.0" font-family="Liberation Sans" font-size="10" fill="#1c1c1c" stroke="#1c1c1c" stroke-width="0.25" font-style="italic" textLength="66.0" lengthAdjust="spacing" transform="rotate(-43 836.0 619.0)">Вл-6кВ 3 пр</text>
<text x="859.0" y="643.0" font-family="Liberation Sans" font-size="10" fill="#1c1c1c" stroke="#1c1c1c" stroke-width="0.25" font-style="italic" textLength="57.0" lengthAdjust="spacingAndGlyphs" transform="rotate(-55 859.0 643.0)">ф.Карьер от</text>
<text x="864.0" y="663.0" font-family="Liberation Sans" font-size="10" fill="#1c1c1c" stroke="#1c1c1c" stroke-width="0.25" font-style="italic" textLength="90.0" lengthAdjust="spacingAndGlyphs" transform="rotate(-56 864.0 663.0)">ПС Аять 35/6 яч.1</text>
<text x="1163.0" y="645.0" font-family="Liberation Sans" font-size="9.5" fill="#1c1c1c" stroke="#1c1c1c" stroke-width="0.25" font-style="italic" textLength="34.0" lengthAdjust="spacingAndGlyphs" transform="rotate(33 1163.0 645.0)">п.Сагра</text>
<line x1="1160.6" y1="655.5" x2="1174.0" y2="663.5" stroke="#1c1c1c" stroke-width="1"/>
<polyline points="1168.0,663.5 1174.0,663.5 1171.0,658.5" fill="none" stroke="#1c1c1c" stroke-width="1"/>
<text x="506.6" y="449.9" font-family="Liberation Sans" font-size="11" fill="#d23a6e" stroke="#d23a6e" stroke-width="0.25" font-style="italic" textLength="131.2" lengthAdjust="spacingAndGlyphs">66:36:0000000:197:ЗУ1(3)</text>
<text x="778.0" y="527.8" font-family="Liberation Sans" font-size="11" fill="#d23a6e" stroke="#d23a6e" stroke-width="0.25" font-style="italic" textLength="128.0" lengthAdjust="spacing">66:36:0000000:197/чзу4</text>
<text x="1063.0" y="511.7" font-family="Liberation Sans" font-size="11" fill="#d23a6e" stroke="#d23a6e" stroke-width="0.25" font-style="italic" textLength="120.8" lengthAdjust="spacingAndGlyphs">66:36:0000000:197:ЗУ3</text>
<text x="1326.4" y="579.7" font-family="Liberation Sans" font-size="11" fill="#d23a6e" stroke="#d23a6e" stroke-width="0.25" font-style="italic" textLength="132.4" lengthAdjust="spacingAndGlyphs">66:36:0000000:197:ЗУ1(2)</text>
<text x="500.0" y="323.0" font-family="Liberation Sans" font-size="10.5" fill="#d23a6e" stroke="#d23a6e" stroke-width="0.25" font-style="italic">30</text>
<text x="567.0" y="340.0" font-family="Liberation Sans" font-size="10.5" fill="#d23a6e" stroke="#d23a6e" stroke-width="0.25" font-style="italic">29</text>
<text x="636.0" y="356.0" font-family="Liberation Sans" font-size="10.5" fill="#d23a6e" stroke="#d23a6e" stroke-width="0.25" font-style="italic">28</text>
<text x="704.0" y="372.5" font-family="Liberation Sans" font-size="10.5" fill="#d23a6e" stroke="#d23a6e" stroke-width="0.25" font-style="italic">27</text>
<text x="751.0" y="387.0" font-family="Liberation Sans" font-size="10.5" fill="#d23a6e" stroke="#d23a6e" stroke-width="0.25" font-style="italic">26</text>
<text x="846.0" y="421.0" font-family="Liberation Sans" font-size="10.5" fill="#d23a6e" stroke="#d23a6e" stroke-width="0.25" font-style="italic">25</text>
<text x="911.0" y="440.0" font-family="Liberation Sans" font-size="10.5" fill="#d23a6e" stroke="#d23a6e" stroke-width="0.25" font-style="italic">24</text>
<text x="980.0" y="471.0" font-family="Liberation Sans" font-size="10.5" fill="#d23a6e" stroke="#d23a6e" stroke-width="0.25" font-style="italic">23</text>
<text x="1006.0" y="464.0" font-family="Liberation Sans" font-size="10.5" fill="#d23a6e" stroke="#d23a6e" stroke-width="0.25" font-style="italic">22</text>
<text x="1001.0" y="482.0" font-family="Liberation Sans" font-size="10.5" fill="#d23a6e" stroke="#d23a6e" stroke-width="0.25" font-style="italic">3</text>
<text x="1034.0" y="484.0" font-family="Liberation Sans" font-size="10.5" fill="#d23a6e" stroke="#d23a6e" stroke-width="0.25" font-style="italic">116</text>
<text x="1050.0" y="499.0" font-family="Liberation Sans" font-size="10.5" fill="#d23a6e" stroke="#d23a6e" stroke-width="0.25" font-style="italic">115</text>
<text x="1047.0" y="507.0" font-family="Liberation Sans" font-size="10.5" fill="#d23a6e" stroke="#d23a6e" stroke-width="0.25" font-style="italic">4</text>
<text x="991.0" y="498.0" font-family="Liberation Sans" font-size="10.5" fill="#d23a6e" stroke="#d23a6e" stroke-width="0.25" font-style="italic">21</text>
<text x="1005.0" y="524.0" font-family="Liberation Sans" font-size="10.5" fill="#d23a6e" stroke="#d23a6e" stroke-width="0.25" font-style="italic">2</text>
<text x="1062.0" y="527.0" font-family="Liberation Sans" font-size="10.5" fill="#d23a6e" stroke="#d23a6e" stroke-width="0.25" font-style="italic">117</text>
<text x="1110.0" y="537.0" font-family="Liberation Sans" font-size="10.5" fill="#d23a6e" stroke="#d23a6e" stroke-width="0.25" font-style="italic">114</text>
<text x="987.0" y="526.0" font-family="Liberation Sans" font-size="10.5" fill="#d23a6e" stroke="#d23a6e" stroke-width="0.25" font-style="italic">1</text>
<text x="886.0" y="510.0" font-family="Liberation Sans" font-size="10.5" fill="#d23a6e" stroke="#d23a6e" stroke-width="0.25" font-style="italic">18</text>
<text x="818.0" y="485.0" font-family="Liberation Sans" font-size="10.5" fill="#d23a6e" stroke="#d23a6e" stroke-width="0.25" font-style="italic">17</text>
<text x="945.0" y="534.0" font-family="Liberation Sans" font-size="10.5" fill="#d23a6e" stroke="#d23a6e" stroke-width="0.25" font-style="italic">19</text>
<text x="958.0" y="550.0" font-family="Liberation Sans" font-size="10.5" fill="#d23a6e" stroke="#d23a6e" stroke-width="0.25" font-style="italic">20</text>
<text x="989.0" y="566.0" font-family="Liberation Sans" font-size="10.5" fill="#d23a6e" stroke="#d23a6e" stroke-width="0.25" font-style="italic">6</text>
<text x="1003.0" y="568.0" font-family="Liberation Sans" font-size="10.5" fill="#d23a6e" stroke="#d23a6e" stroke-width="0.25" font-style="italic">118</text>
<text x="1032.0" y="576.0" font-family="Liberation Sans" font-size="10.5" fill="#d23a6e" stroke="#d23a6e" stroke-width="0.25" font-style="italic">1</text>
<text x="1037.0" y="544.0" font-family="Liberation Sans" font-size="10.5" fill="#d23a6e" stroke="#d23a6e" stroke-width="0.25" font-style="italic">5</text>
<text x="1078.0" y="603.0" font-family="Liberation Sans" font-size="10.5" fill="#d23a6e" stroke="#d23a6e" stroke-width="0.25" font-style="italic">2</text>
<text x="1136.0" y="629.0" font-family="Liberation Sans" font-size="10.5" fill="#d23a6e" stroke="#d23a6e" stroke-width="0.25" font-style="italic">3</text>
<text x="1167.0" y="561.0" font-family="Liberation Sans" font-size="10.5" fill="#d23a6e" stroke="#d23a6e" stroke-width="0.25" font-style="italic">113</text>
<text x="1215.0" y="588.0" font-family="Liberation Sans" font-size="10.5" fill="#d23a6e" stroke="#d23a6e" stroke-width="0.25" font-style="italic">112</text>
<text x="1285.0" y="644.0" font-family="Liberation Sans" font-size="10.5" fill="#d23a6e" stroke="#d23a6e" stroke-width="0.25" font-style="italic">111</text>
<text x="1210.0" y="655.0" font-family="Liberation Sans" font-size="10.5" fill="#d23a6e" stroke="#d23a6e" stroke-width="0.25" font-style="italic">4</text>
<text x="492.0" y="396.0" font-family="Liberation Sans" font-size="10.5" fill="#d23a6e" stroke="#d23a6e" stroke-width="0.25" font-style="italic">12</text>
<text x="559.0" y="414.0" font-family="Liberation Sans" font-size="10.5" fill="#d23a6e" stroke="#d23a6e" stroke-width="0.25" font-style="italic">13</text>
<text x="616.0" y="422.0" font-family="Liberation Sans" font-size="10.5" fill="#d23a6e" stroke="#d23a6e" stroke-width="0.25" font-style="italic">14</text>
<text x="691.0" y="454.0" font-family="Liberation Sans" font-size="10.5" fill="#d23a6e" stroke="#d23a6e" stroke-width="0.25" font-style="italic">15</text>
<text x="751.0" y="461.0" font-family="Liberation Sans" font-size="10.5" fill="#d23a6e" stroke="#d23a6e" stroke-width="0.25" font-style="italic">16</text>
<text x="1497.4" y="272.7" font-family="Liberation Serif" font-size="11.5" fill="#111" font-weight="bold" text-anchor="middle">N</text>
<polygon points="1497.4,274.8 1495.4,288.6 1499.4,288.6" fill="#333" stroke="#111" stroke-width="0.6"/>
<circle cx="1497.4" cy="292.5" r="2.2" fill="#111"/>
<polygon points="1497.4,296 1494.6,313 1497.4,309 1500.2,313" fill="none" stroke="#111" stroke-width="0.9"/>
<line x1="1497.4" y1="296.0" x2="1497.4" y2="310.0" stroke="#333" stroke-width="0.7"/>
<line x1="118.2" y1="562.7" x2="189.0" y2="562.7" stroke="#1a1a1a" stroke-width="1.4"/>
<line x1="136.0" y1="562.7" x2="136.0" y2="791.7" stroke="#1a1a1a" stroke-width="1.2"/>
<line x1="153.8" y1="562.7" x2="153.8" y2="791.7" stroke="#1a1a1a" stroke-width="1.2"/>
<line x1="171.5" y1="562.7" x2="171.5" y2="791.7" stroke="#1a1a1a" stroke-width="1.2"/>
<line x1="136.0" y1="598.0" x2="189.0" y2="598.0" stroke="#1a1a1a" stroke-width="1.2"/>
<line x1="136.0" y1="649.7" x2="189.0" y2="649.7" stroke="#1a1a1a" stroke-width="1.2"/>
<line x1="136.0" y1="721.0" x2="189.0" y2="721.0" stroke="#1a1a1a" stroke-width="1.2"/>
<line x1="118.0" y1="791.7" x2="189.0" y2="791.7" stroke="#1a1a1a" stroke-width="1.4"/>
<line x1="146.0" y1="791.7" x2="146.0" y2="1090.0" stroke="#1a1a1a" stroke-width="1.3"/>
<line x1="163.3" y1="791.7" x2="163.3" y2="1090.0" stroke="#1a1a1a" stroke-width="1.3"/>
<line x1="146.0" y1="879.3" x2="189.0" y2="879.3" stroke="#1a1a1a" stroke-width="1.3"/>
<line x1="146.0" y1="1090.0" x2="189.0" y2="1090.0" stroke="#1a1a1a" stroke-width="1.4"/>
<line x1="146.0" y1="1001.5" x2="189.0" y2="1001.5" stroke="#1a1a1a" stroke-width="1.3"/>
<text x="135.0" y="726.0" font-family="Liberation Sans" font-size="13.5" fill="#222" stroke="#222" stroke-width="0.25" font-weight="bold" text-anchor="middle" textLength="81.0" lengthAdjust="spacingAndGlyphs" transform="rotate(-90 135.0 726.0)">Согласовано</text>
<text x="161.8" y="832.5" font-family="Liberation Sans" font-size="12.5" fill="#222" stroke="#222" stroke-width="0.25" font-weight="bold" text-anchor="middle" textLength="78.0" lengthAdjust="spacingAndGlyphs" transform="rotate(-90 161.8 832.5)">Взам. инв. №</text>
<text x="161.8" y="935.0" font-family="Liberation Sans" font-size="12.5" fill="#222" stroke="#222" stroke-width="0.25" font-weight="bold" text-anchor="middle" textLength="76.0" lengthAdjust="spacingAndGlyphs" transform="rotate(-90 161.8 935.0)">Подп. и дата</text>
<text x="161.8" y="1038.0" font-family="Liberation Sans" font-size="12.5" fill="#222" stroke="#222" stroke-width="0.25" font-weight="bold" text-anchor="middle" textLength="82.0" lengthAdjust="spacingAndGlyphs" transform="rotate(-90 161.8 1038.0)">Инв. № подл.</text>
<text x="207.0" y="613.0" font-family="Liberation Sans" font-size="12" fill="#1e1e1e" stroke="#1e1e1e" stroke-width="0.25" font-style="italic" textLength="136.0" lengthAdjust="spacingAndGlyphs">Условные обозначения:</text>
<rect x="209.5" y="619.7" width="42.5" height="19.6" fill="#eef6fa" stroke="#d0306a" stroke-width="2.6"/>
<text x="260.4" y="634.0" font-family="Liberation Sans" font-size="8.3" fill="#1e1e1e" stroke="#1e1e1e" stroke-width="0.12" font-style="italic" textLength="258.0" lengthAdjust="spacing">Границы зон планируемого размещения линейных объектов</text>
<line x1="205.0" y1="648.0" x2="255.0" y2="648.0" stroke="#c890d8" stroke-width="4.5"/>
<text x="260.4" y="646.5" font-family="Liberation Sans" font-size="8.3" fill="#1e1e1e" stroke="#1e1e1e" stroke-width="0.12" font-style="italic" textLength="262.0" lengthAdjust="spacing">Границы территории, в отношении которой осуществляется</text>
<text x="260.4" y="658.5" font-family="Liberation Sans" font-size="8.3" fill="#1e1e1e" stroke="#1e1e1e" stroke-width="0.12" font-style="italic" textLength="140.0" lengthAdjust="spacing">подготовка проекта планировки</text>
<line x1="206.0" y1="672.0" x2="253.0" y2="672.0" stroke="#1e1e1e" stroke-width="2.2"/>
<text x="260.0" y="675.0" font-family="Liberation Sans" font-size="8.3" fill="#1e1e1e" stroke="#1e1e1e" stroke-width="0.12" font-style="italic" textLength="126.0" lengthAdjust="spacing">Границы придорожной полосы</text>
<line x1="207.0" y1="689.4" x2="230.0" y2="689.4" stroke="#1a9aa0" stroke-width="2.5"/>
<line x1="238.0" y1="689.4" x2="253.0" y2="689.4" stroke="#1a9aa0" stroke-width="2.5"/>
<text x="260.0" y="692.5" font-family="Liberation Sans" font-size="8.3" fill="#1e1e1e" stroke="#1e1e1e" stroke-width="0.12" font-style="italic" textLength="216.0" lengthAdjust="spacing">Существующая линия электропередач Вл-6кВ 3 пр</text>
<rect x="211.0" y="701.5" width="42.0" height="17.5" fill="none" stroke="#2a5aa8" stroke-width="3" stroke-dasharray="8 5"/>
<text x="262.0" y="714.0" font-family="Liberation Sans" font-size="8.3" fill="#1e1e1e" stroke="#1e1e1e" stroke-width="0.12" font-style="italic" textLength="176.0" lengthAdjust="spacing">Граница проекта межевания территории</text>
<rect x="212.5" y="727.5" width="40.5" height="18.5" fill="none" stroke="#222" stroke-width="1.5"/>
<text x="264.0" y="735.5" font-family="Liberation Sans" font-size="8.3" fill="#1e1e1e" stroke="#1e1e1e" stroke-width="0.12" font-style="italic" textLength="314.0" lengthAdjust="spacing">Часть земельного участка с кадастровым номером 66:36:0000000:197/208,</text>
<text x="264.0" y="747.0" font-family="Liberation Sans" font-size="8.3" fill="#1e1e1e" stroke="#1e1e1e" stroke-width="0.12" font-style="italic" textLength="296.0" lengthAdjust="spacing">находящаяся в аренде ООО "Инвестиционно-строительная компания"</text>
<rect x="213.0" y="752.5" width="41.0" height="18.0" fill="#e8f6f6" stroke="#f4a8bc" stroke-width="2.5"/>
<text x="264.0" y="765.0" font-family="Liberation Sans" font-size="8.3" fill="#1e1e1e" stroke="#1e1e1e" stroke-width="0.12" font-style="italic" textLength="226.0" lengthAdjust="spacingAndGlyphs">Образуемый земельный участок 66:36:0000000:197:ЗУ1</text>
<circle cx="233.5" cy="779" r="2.8" fill="none" stroke="#e0407a" stroke-width="1.2"/>
<text x="244.0" y="781.0" font-family="Liberation Sans" font-size="8" fill="#d23a6e" stroke="#d23a6e" stroke-width="0.12" font-style="italic">10</text>
<text x="264.0" y="782.0" font-family="Liberation Sans" font-size="8.3" fill="#1e1e1e" stroke="#1e1e1e" stroke-width="0.12" font-style="italic" textLength="232.0" lengthAdjust="spacing">Характерная точка образуемого земельного участка</text>
<rect x="214.0" y="789.4" width="40.8" height="18.6" fill="#d2a2d6" stroke="#2a2a3a" stroke-width="1.6"/>
<text x="264.0" y="797.5" font-family="Liberation Sans" font-size="8.3" fill="#1e1e1e" stroke="#1e1e1e" stroke-width="0.12" font-style="italic" textLength="322.0" lengthAdjust="spacingAndGlyphs">Образуемый земельный участок 65:36:0000000:197:ЗУ3, подлежащий изъятию</text>
<text x="264.0" y="809.0" font-family="Liberation Sans" font-size="8.3" fill="#1e1e1e" stroke="#1e1e1e" stroke-width="0.12" font-style="italic" textLength="114.0" lengthAdjust="spacing">для государственных нужд</text>
<rect x="213.0" y="812.0" width="41.0" height="19.0" fill="#f4fae6" stroke="#eef6d8" stroke-width="2"/>
<text x="264.0" y="826.5" font-family="Liberation Sans" font-size="8.3" fill="#1e1e1e" stroke="#1e1e1e" stroke-width="0.12" font-style="italic" textLength="214.0" lengthAdjust="spacing">Часть земельного участка 66:36:0000000:197/чзу4</text>
<line x1="211.0" y1="840.0" x2="254.0" y2="840.0" stroke="#d890b0" stroke-width="1" stroke-dasharray="3 2"/>
<text x="264.0" y="843.5" font-family="Liberation Sans" font-size="8.3" fill="#1e1e1e" stroke="#1e1e1e" stroke-width="0.12" font-style="italic" textLength="180.0" lengthAdjust="spacingAndGlyphs">Ось проектируемой автомобильной дороги</text>
<rect x="212.8" y="850.0" width="41.0" height="17.0" fill="#f0f0f0" stroke="#333" stroke-width="1.6"/>
<text x="263.0" y="856.5" font-family="Liberation Sans" font-size="8.3" fill="#1e1e1e" stroke="#1e1e1e" stroke-width="0.12" font-style="italic" textLength="314.0" lengthAdjust="spacing">Проезжая часть проектируемой автомобильной дороги п.Сагра - п. Аять</text>
<text x="263.0" y="868.5" font-family="Liberation Sans" font-size="8.3" fill="#1e1e1e" stroke="#1e1e1e" stroke-width="0.12" font-style="italic" textLength="62.0" lengthAdjust="spacing">(IV категория)</text>
<rect x="212.0" y="874.5" width="41.0" height="17.0" fill="#f8f0d4" stroke="#faf3dc" stroke-width="1"/>
<text x="261.0" y="880.5" font-family="Liberation Sans" font-size="8.3" fill="#1e1e1e" stroke="#1e1e1e" stroke-width="0.12" font-style="italic" textLength="333.0" lengthAdjust="spacing">Существующая грунтовая дорога (подлежащая демонтажу, в границах зоны</text>
<text x="261.0" y="892.5" font-family="Liberation Sans" font-size="8.3" fill="#1e1e1e" stroke="#1e1e1e" stroke-width="0.12" font-style="italic" textLength="200.0" lengthAdjust="spacing">планируемого разнешения линейных объектов)</text>
<text x="262.0" y="912.0" font-family="Liberation Sans" font-size="8.3" fill="#1e1e1e" stroke="#1e1e1e" stroke-width="0.12" font-style="italic" textLength="203.0" lengthAdjust="spacing">Проектируемые обочины автомобильной дороги</text>
<rect x="212.5" y="919.0" width="41.5" height="18.5" fill="none" stroke="#1f8a98" stroke-width="2.8"/>
<text x="262.0" y="932.0" font-family="Liberation Sans" font-size="8.3" fill="#1e1e1e" stroke="#1e1e1e" stroke-width="0.12" font-style="italic" textLength="115.0" lengthAdjust="spacing">Границы лесных кварталов</text>
<text x="386.0" y="934.0" font-family="Liberation Sans" font-size="13" fill="#1e1e1e" stroke="#1e1e1e" stroke-width="0.25" font-style="italic">16</text>
<text x="408.0" y="932.0" font-family="Liberation Sans" font-size="8.3" fill="#1e1e1e" stroke="#1e1e1e" stroke-width="0.12" font-style="italic" textLength="105.0" lengthAdjust="spacing">Номер лесного квартала</text>
<rect x="213.0" y="940.5" width="40.5" height="17.0" fill="none" stroke="#58c0b8" stroke-width="2"/>
<text x="263.0" y="953.0" font-family="Liberation Sans" font-size="8.3" fill="#1e1e1e" stroke="#1e1e1e" stroke-width="0.12" font-style="italic" textLength="107.0" lengthAdjust="spacing">Границы лесных выделов</text>
<text x="383.0" y="955.0" font-family="Liberation Sans" font-size="13" fill="#1e1e1e" stroke="#1e1e1e" stroke-width="0.25" font-style="italic">69</text>
<text x="408.0" y="953.0" font-family="Liberation Sans" font-size="8.3" fill="#1e1e1e" stroke="#1e1e1e" stroke-width="0.12" font-style="italic" textLength="93.0" lengthAdjust="spacingAndGlyphs">Номер лесного выдела</text>
<rect x="205.5" y="964.5" width="48.5" height="20.5" fill="#faf3f5" stroke="#e8c8d0" stroke-width="1.5"/>
<line x1="207.0" y1="971.0" x2="252.0" y2="971.0" stroke="#e8c8d0" stroke-width="1"/>
<line x1="207.0" y1="978.0" x2="252.0" y2="978.0" stroke="#e8c8d0" stroke-width="1"/>
<text x="267.0" y="977.0" font-family="Liberation Sans" font-size="8.3" fill="#1e1e1e" stroke="#1e1e1e" stroke-width="0.12" font-style="italic" textLength="201.0" lengthAdjust="spacing">Проектируемые откосы автомобильной дороги</text>
<rect x="231.5" y="997.0" width="9.0" height="9.0" fill="#4aa0a8" stroke="#2a6060" stroke-width="1"/>
<line x1="228.0" y1="1008.0" x2="244.0" y2="995.0" stroke="#2a4a5a" stroke-width="1.2"/>
<text x="265.0" y="1005.0" font-family="Liberation Sans" font-size="8.3" fill="#1e1e1e" stroke="#1e1e1e" stroke-width="0.12" font-style="italic" textLength="232.0" lengthAdjust="spacing">Существующая опора Вл-6кВ, подлежащая демонтажу</text>
<rect x="232.0" y="1018.0" width="9.0" height="9.0" fill="#ec5a92" stroke="#5a2040" stroke-width="1"/>
<text x="264.0" y="1026.0" font-family="Liberation Sans" font-size="8.3" fill="#1e1e1e" stroke="#1e1e1e" stroke-width="0.12" font-style="italic" textLength="260.0" lengthAdjust="spacingAndGlyphs">Проектируемые опоры Вл-6кВ, в результате переустройства</text>
<text x="258.0" y="1046.0" font-family="Liberation Sans" font-size="8.5" fill="#333" stroke="#333" stroke-width="0.12" font-style="italic" text-anchor="end" textLength="58.0" lengthAdjust="spacingAndGlyphs">66:36:3101001</text>
<text x="266.0" y="1046.0" font-family="Liberation Sans" font-size="8.3" fill="#1e1e1e" stroke="#1e1e1e" stroke-width="0.12" font-style="italic" textLength="93.0" lengthAdjust="spacingAndGlyphs">Кадастровый квартал</text>
<text x="256.0" y="1063.0" font-family="Liberation Sans" font-size="8.5" fill="#333" stroke="#333" stroke-width="0.12" font-style="italic" text-anchor="end" textLength="16.0" lengthAdjust="spacingAndGlyphs">:197</text>
<text x="269.0" y="1063.0" font-family="Liberation Sans" font-size="8.3" fill="#1e1e1e" stroke="#1e1e1e" stroke-width="0.12" font-style="italic" textLength="172.0" lengthAdjust="spacing">Кадастровый номер земельного участка</text>
<text x="197.0" y="1083.0" font-family="Liberation Sans" font-size="8.5" fill="#8a3a5a" stroke="#8a3a5a" stroke-width="0.12" font-style="italic" textLength="108.0" lengthAdjust="spacing">66:36:0000000:197:ЗУ1(3)</text>
<text x="315.0" y="1083.0" font-family="Liberation Sans" font-size="8.3" fill="#1e1e1e" stroke="#1e1e1e" stroke-width="0.12" font-style="italic" textLength="211.0" lengthAdjust="spacing">Условный номер образуемого земельного участка</text>
<rect x="1108.7" y="693.1" width="277.0" height="47.4" fill="none" stroke="#1a1a1a" stroke-width="1.1"/>
<line x1="1177.5" y1="693.1" x2="1177.5" y2="740.5" stroke="#1a1a1a" stroke-width="1.1"/>
<line x1="1247.4" y1="693.1" x2="1247.4" y2="740.5" stroke="#1a1a1a" stroke-width="1.1"/>
<line x1="1316.7" y1="693.1" x2="1316.7" y2="740.5" stroke="#1a1a1a" stroke-width="1.1"/>
<rect x="1316.7" y="740.5" width="137.6" height="47.6" fill="none" stroke="#1a1a1a" stroke-width="1.1"/>
<line x1="1385.7" y1="740.5" x2="1385.7" y2="788.1" stroke="#1a1a1a" stroke-width="1.1"/>
<rect x="1385.7" y="788.1" width="68.6" height="94.6" fill="none" stroke="#1a1a1a" stroke-width="1.1"/>
<line x1="1385.7" y1="835.7" x2="1454.3" y2="835.7" stroke="#1a1a1a" stroke-width="1.1"/>
<text x="1144.8" y="705.0" font-family="Liberation Sans" font-size="5.5" fill="#222" stroke="#222" stroke-width="0.12" font-style="italic" text-anchor="middle" textLength="26.0" lengthAdjust="spacing">Лист №8</text>
<text x="1214.0" y="705.0" font-family="Liberation Sans" font-size="5.5" fill="#222" stroke="#222" stroke-width="0.12" font-style="italic" text-anchor="middle" textLength="26.0" lengthAdjust="spacing">Лист №7</text>
<text x="1284.0" y="705.0" font-family="Liberation Sans" font-size="5.5" fill="#222" stroke="#222" stroke-width="0.12" font-style="italic" text-anchor="middle" textLength="26.0" lengthAdjust="spacing">Лист №6</text>
<text x="1360.0" y="709.0" font-family="Liberation Sans" font-size="5.5" fill="#222" stroke="#222" stroke-width="0.12" font-style="italic" text-anchor="middle" textLength="26.0" lengthAdjust="spacing">Лист №5</text>
<text x="1343.0" y="776.0" font-family="Liberation Sans" font-size="5.5" fill="#222" stroke="#222" stroke-width="0.12" font-style="italic" text-anchor="middle" textLength="26.0" lengthAdjust="spacing">Лист №4</text>
<text x="1425.0" y="759.0" font-family="Liberation Sans" font-size="5.5" fill="#222" stroke="#222" stroke-width="0.12" font-style="italic" text-anchor="middle" textLength="26.0" lengthAdjust="spacing">Лист №3</text>
<text x="1428.0" y="827.0" font-family="Liberation Sans" font-size="5.5" fill="#222" stroke="#222" stroke-width="0.12" font-style="italic" text-anchor="middle" textLength="26.0" lengthAdjust="spacing">Лист №2</text>
<text x="1426.0" y="851.0" font-family="Liberation Sans" font-size="5.5" fill="#222" stroke="#222" stroke-width="0.12" font-style="italic" text-anchor="middle" textLength="26.0" lengthAdjust="spacing">Лист №1</text>
<path d="M1134.9,709.5 C1154.6,709.7 1222.7,709.7 1252.9,710.6 C1283.1,711.5 1299.5,712.0 1316.3,714.9 C1333.0,717.9 1342.5,723.3 1353.4,728.1 C1364.3,732.8 1372.3,737.3 1381.8,743.3 C1391.2,749.4 1403.6,757.5 1410.2,764.1 C1416.7,770.7 1418.9,776.3 1421.1,782.7 C1423.3,789.0 1424.0,794.7 1423.3,802.3 C1422.6,810.0 1418.9,821.3 1416.7,828.5 C1414.5,835.8 1411.8,841.6 1410.2,846.0 C1408.5,850.4 1406.2,852.6 1406.9,854.7 C1407.6,856.9 1411.5,857.7 1414.5,859.1 C1417.6,860.6 1422.2,860.9 1425.5,863.5 C1428.7,866.0 1434.0,871.8 1434.2,874.4 C1434.4,877.0 1427.8,878.4 1426.6,879.2" fill="none" stroke="#333" stroke-width="1"/>
<path d="M1134.9,722.6 C1154.6,722.6 1222.7,721.9 1252.9,722.6 C1283.1,723.3 1299.9,724.4 1316.3,727.0 C1332.6,729.5 1339.9,732.4 1351.2,737.9 C1362.5,743.3 1374.9,753.2 1384.0,759.7 C1393.1,766.3 1401.3,771.6 1405.8,777.2 C1410.4,782.8 1410.9,787.2 1411.3,793.6 C1411.6,800.0 1410.4,808.1 1408.0,815.4 C1405.6,822.7 1399.6,830.7 1397.1,837.3 C1394.5,843.8 1392.7,850.0 1392.7,854.7 C1392.7,859.5 1393.4,862.8 1397.1,865.7 C1400.7,868.6 1409.6,870.0 1414.5,872.2 C1419.5,874.5 1424.6,878.0 1426.6,879.2" fill="none" stroke="#333" stroke-width="1"/>
<polyline points="1134.9,709.5 1130.6,717.1 1134.9,722.6" fill="none" stroke="#333" stroke-width="1"/>
<line x1="877.9" y1="895.5" x2="1536.0" y2="896.8" stroke="#1a1a1a" stroke-width="1.3"/>
<line x1="904.1" y1="895.5" x2="904.1" y2="983.8" stroke="#1a1a1a" stroke-width="1.3"/>
<line x1="977.6" y1="895.5" x2="977.6" y2="983.8" stroke="#1a1a1a" stroke-width="1.3"/>
<line x1="877.9" y1="895.5" x2="877.9" y2="1090.5" stroke="#1a1a1a" stroke-width="1.3"/>
<line x1="938.6" y1="895.5" x2="938.6" y2="1090.5" stroke="#1a1a1a" stroke-width="1.3"/>
<line x1="1019.6" y1="895.5" x2="1019.6" y2="1090.5" stroke="#1a1a1a" stroke-width="1.3"/>
<line x1="1073.3" y1="895.5" x2="1073.3" y2="1090.5" stroke="#1a1a1a" stroke-width="1.3"/>
<line x1="1108.3" y1="895.5" x2="1108.3" y2="1090.5" stroke="#1a1a1a" stroke-width="1.3"/>
<line x1="877.9" y1="913.3" x2="1108.3" y2="913.3" stroke="#1a1a1a" stroke-width="1.1"/>
<line x1="877.9" y1="948.9" x2="1108.3" y2="948.9" stroke="#1a1a1a" stroke-width="1.1"/>
<line x1="877.9" y1="966.4" x2="1108.3" y2="966.4" stroke="#1a1a1a" stroke-width="1.1"/>
<line x1="877.9" y1="1000.5" x2="1108.3" y2="1000.5" stroke="#1a1a1a" stroke-width="1.1"/>
<line x1="877.9" y1="1036.3" x2="1108.3" y2="1036.3" stroke="#1a1a1a" stroke-width="1.1"/>
<line x1="877.9" y1="1053.8" x2="1108.3" y2="1053.8" stroke="#1a1a1a" stroke-width="1.1"/>
<line x1="877.9" y1="1071.8" x2="1108.3" y2="1071.8" stroke="#1a1a1a" stroke-width="1.1"/>
<line x1="877.9" y1="931.4" x2="1108.3" y2="931.4" stroke="#9a9a9a" stroke-width="1"/>
<line x1="877.9" y1="1018.3" x2="1108.3" y2="1018.3" stroke="#555" stroke-width="0.9"/>
<line x1="877.9" y1="983.8" x2="1536.0" y2="984.3" stroke="#1a1a1a" stroke-width="1.8"/>
<line x1="1108.3" y1="931.5" x2="1536.0" y2="931.5" stroke="#1a1a1a" stroke-width="1.8"/>
<line x1="1108.3" y1="1036.6" x2="1536.0" y2="1036.6" stroke="#1a1a1a" stroke-width="1.6"/>
<line x1="1356.6" y1="984.3" x2="1356.6" y2="1090.5" stroke="#1a1a1a" stroke-width="1.3"/>
<line x1="1410.0" y1="984.3" x2="1410.0" y2="1036.6" stroke="#1a1a1a" stroke-width="1.3"/>
<line x1="1463.8" y1="984.3" x2="1463.8" y2="1036.6" stroke="#1a1a1a" stroke-width="1.3"/>
<line x1="1356.6" y1="1000.6" x2="1536.0" y2="1000.6" stroke="#1a1a1a" stroke-width="1.2"/>
<text x="881.0" y="980.0" font-family="Liberation Sans" font-size="7" fill="#222" stroke="#222" stroke-width="0.12" textLength="16.0" lengthAdjust="spacing">Изм.</text>
<text x="906.0" y="980.0" font-family="Liberation Sans" font-size="7" fill="#222" stroke="#222" stroke-width="0.12" textLength="27.0" lengthAdjust="spacing">Кол.уч.</text>
<text x="958.0" y="980.0" font-family="Liberation Sans" font-size="7" fill="#222" stroke="#222" stroke-width="0.12" text-anchor="middle" textLength="18.0" lengthAdjust="spacing">Лист</text>
<text x="998.0" y="980.0" font-family="Liberation Sans" font-size="7" fill="#222" stroke="#222" stroke-width="0.12" text-anchor="middle" textLength="21.0" lengthAdjust="spacing">№док</text>
<text x="1046.5" y="980.0" font-family="Liberation Sans" font-size="7" fill="#222" stroke="#222" stroke-width="0.12" text-anchor="middle" textLength="20.0" lengthAdjust="spacing">Подп.</text>
<text x="1091.0" y="980.0" font-family="Liberation Sans" font-size="7" fill="#222" stroke="#222" stroke-width="0.12" text-anchor="middle" textLength="20.0" lengthAdjust="spacing">Дата</text>
<text x="881.0" y="996.0" font-family="Liberation Sans" font-size="7" fill="#222" stroke="#222" stroke-width="0.12" textLength="38.0" lengthAdjust="spacing">Выполнил</text>
<text x="942.0" y="996.0" font-family="Liberation Sans" font-size="7" fill="#222" stroke="#222" stroke-width="0.12" textLength="60.0" lengthAdjust="spacing">Гончаренко А.П.</text>
<text x="1080.0" y="996.0" font-family="Liberation Sans" font-size="7" fill="#222" stroke="#222" stroke-width="0.12" textLength="15.0" lengthAdjust="spacing">6.24</text>
<text x="881.0" y="1012.0" font-family="Liberation Sans" font-size="7" fill="#222" stroke="#222" stroke-width="0.12" textLength="38.0" lengthAdjust="spacing">Выполнил</text>
<text x="942.0" y="1013.0" font-family="Liberation Sans" font-size="7" fill="#222" stroke="#222" stroke-width="0.12" textLength="60.0" lengthAdjust="spacing">Кислицына А.В.</text>
<text x="1080.0" y="1013.0" font-family="Liberation Sans" font-size="7" fill="#222" stroke="#222" stroke-width="0.12" textLength="15.0" lengthAdjust="spacing">6.24</text>
<path d="M1035,997 C1030,990 1040,985 1045,988 L1040,998 M1043,993 C1048,990 1050,995 1055,990" fill="none" stroke="#666" stroke-width="0.8"/>
<path d="M1030,1015 C1028,1008 1038,1005 1040,1008 L1035,1016 M1038,1011 C1045,1006 1050,1012 1058,1005 M1045,1020 L1052,1008" fill="none" stroke="#666" stroke-width="0.8"/>
<text x="1328.5" y="915.0" font-family="Liberation Sans" font-size="10.5" fill="#222" stroke="#222" stroke-width="0.25" text-anchor="middle" textLength="133.0" lengthAdjust="spacingAndGlyphs">6/941/ЭА-2024-ПМТ-ГЧ-01</text>
<text x="1328.0" y="943.0" font-family="Liberation Sans" font-size="7" fill="#222" stroke="#222" stroke-width="0.12" text-anchor="middle" textLength="403.0" lengthAdjust="spacing">Документация по планировке территории для размещения линейного объекта транспортной инфраструктуры</text>
<text x="1328.0" y="954.0" font-family="Liberation Sans" font-size="7" fill="#222" stroke="#222" stroke-width="0.12" text-anchor="middle" textLength="366.0" lengthAdjust="spacing">регионального значения «Строительство автомобильной дороги п. Сагра - п. Аять на территориях</text>
<text x="1328.0" y="964.5" font-family="Liberation Sans" font-size="7" fill="#222" stroke="#222" stroke-width="0.12" text-anchor="middle" textLength="255.0" lengthAdjust="spacing">городского округа Верхняя Пышма и Невьянского городского округа»</text>
<text x="1226.0" y="1011.5" font-family="Liberation Sans" font-size="6.5" fill="#222" stroke="#222" stroke-width="0.12" text-anchor="middle" textLength="114.0" lengthAdjust="spacing">Чертеж межевания территории</text>
<text x="1378.0" y="995.5" font-family="Liberation Sans" font-size="7" fill="#222" stroke="#222" stroke-width="0.12" text-anchor="middle" textLength="29.0" lengthAdjust="spacing">Стадия</text>
<text x="1431.0" y="995.5" font-family="Liberation Sans" font-size="7" fill="#222" stroke="#222" stroke-width="0.12" text-anchor="middle" textLength="19.0" lengthAdjust="spacing">Лист</text>
<text x="1495.0" y="995.5" font-family="Liberation Sans" font-size="7" fill="#222" stroke="#222" stroke-width="0.12" text-anchor="middle" textLength="28.0" lengthAdjust="spacing">Листов</text>
<text x="1384.0" y="1022.0" font-family="Liberation Sans" font-size="7" fill="#222" stroke="#222" stroke-width="0.12" text-anchor="middle" textLength="17.0" lengthAdjust="spacing">ПМТ</text>
<text x="1433.0" y="1022.0" font-family="Liberation Sans" font-size="7" fill="#222" stroke="#222" stroke-width="0.12" text-anchor="middle">5</text>
<text x="1494.0" y="1022.0" font-family="Liberation Sans" font-size="7" fill="#222" stroke="#222" stroke-width="0.12" text-anchor="middle">8</text>
<text x="1236.6" y="1065.0" font-family="Liberation Sans" font-size="8" fill="#222" stroke="#222" stroke-width="0.12" text-anchor="middle" textLength="63.0" lengthAdjust="spacingAndGlyphs">Масштаб 1:2500</text>
<defs><radialGradient id="stg" cx="0.5" cy="0.55" r="0.5"><stop offset="0" stop-color="#3cb4c8"/><stop offset="0.45" stop-color="#7ccfdc"/><stop offset="0.75" stop-color="#e6f6f8"/><stop offset="1" stop-color="#ffffff"/></radialGradient></defs>
<ellipse cx="1436" cy="1064" rx="26.5" ry="24.5" fill="url(#stg)" stroke="#7a7a7a" stroke-width="1.3"/>
<ellipse cx="1436" cy="1064" rx="22.5" ry="20.5" fill="none" stroke="#c8c8c8" stroke-width="0.8"/>
<text x="1436.0" y="1070.0" font-family="Liberation Serif" font-size="15" fill="#2a2a2a" stroke="#2a2a2a" stroke-width="0.1" text-anchor="middle" textLength="46.0" lengthAdjust="spacing">УНИК</text>
<text x="1436.0" y="1103.0" font-family="Liberation Sans" font-size="8" fill="#222" stroke="#222" stroke-width="0.12" font-weight="bold" text-anchor="middle" textLength="47.0" lengthAdjust="spacing">Формат А3</text>
</svg>
</body></html>
